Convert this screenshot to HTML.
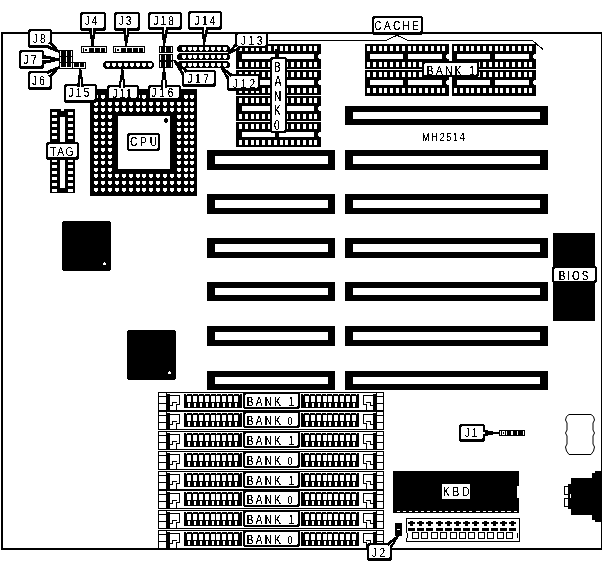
<!DOCTYPE html>
<html><head><meta charset="utf-8"><style>
html,body{margin:0;padding:0;background:#fff;}
svg{display:block;}
text{font-family:"Liberation Sans",sans-serif;}
</style></head><body>
<svg width="604" height="573" viewBox="0 0 604 573" shape-rendering="crispEdges">
<rect x="0" y="0" width="604" height="573" fill="#fff"/>
<rect x="1" y="32" width="601" height="2" fill="#000"/>
<rect x="1" y="32" width="2" height="518" fill="#000"/>
<rect x="1" y="548" width="601" height="2" fill="#000"/>
<rect x="601" y="32" width="1" height="518" fill="#000"/>
<rect x="269" y="40" width="118" height="1" fill="#000"/>
<polygon points="386.00,40.00 397.00,34.50 408.00,40.00 408.00,41.00 397.00,35.80 386.00,41.00" fill="#000"/>
<rect x="408" y="40" width="125" height="1" fill="#000"/>
<polygon points="532.50,40.00 543.50,49.00 543.00,50.00 532.00,41.00" fill="#000"/>
<rect x="345" y="106" width="203" height="19" fill="#000"/>
<rect x="353" y="112" width="187" height="7" fill="#fff"/>
<rect x="345" y="150" width="203" height="20" fill="#000"/>
<rect x="353" y="156" width="187" height="8" fill="#fff"/>
<rect x="207" y="150" width="128" height="20" fill="#000"/>
<rect x="215" y="156" width="113" height="8" fill="#fff"/>
<rect x="345" y="194" width="203" height="20" fill="#000"/>
<rect x="353" y="200" width="187" height="8" fill="#fff"/>
<rect x="207" y="194" width="128" height="20" fill="#000"/>
<rect x="215" y="200" width="113" height="8" fill="#fff"/>
<rect x="345" y="238" width="203" height="20" fill="#000"/>
<rect x="353" y="244" width="187" height="8" fill="#fff"/>
<rect x="207" y="238" width="128" height="20" fill="#000"/>
<rect x="215" y="244" width="113" height="8" fill="#fff"/>
<rect x="345" y="282" width="203" height="19" fill="#000"/>
<rect x="353" y="288" width="187" height="7" fill="#fff"/>
<rect x="207" y="282" width="128" height="19" fill="#000"/>
<rect x="215" y="288" width="113" height="7" fill="#fff"/>
<rect x="345" y="326" width="203" height="20" fill="#000"/>
<rect x="353" y="332" width="187" height="8" fill="#fff"/>
<rect x="207" y="326" width="128" height="20" fill="#000"/>
<rect x="215" y="332" width="113" height="8" fill="#fff"/>
<rect x="345" y="371" width="203" height="19" fill="#000"/>
<rect x="353" y="377" width="187" height="7" fill="#fff"/>
<rect x="207" y="371" width="128" height="19" fill="#000"/>
<rect x="215" y="377" width="113" height="7" fill="#fff"/>
<rect x="62" y="221" width="49" height="50" rx="3" fill="#000"/>
<rect x="103" y="263" width="3" height="2" fill="#fff"/>
<rect x="104" y="262" width="1" height="1" fill="#fff"/>
<rect x="127" y="330" width="49" height="50" rx="3" fill="#000"/>
<rect x="168" y="372" width="3" height="2" fill="#fff"/>
<rect x="169" y="371" width="1" height="1" fill="#fff"/>
<rect x="553" y="233" width="42" height="88" fill="#000"/>
<rect x="552" y="266" width="45" height="17" rx="3" fill="#000"/>
<rect x="554" y="268" width="41" height="13" rx="2" fill="#fff"/>
<rect x="90" y="89" width="107" height="107" fill="#000"/>
<rect x="94" y="95" width="4" height="3" fill="#fff"/>
<rect x="95" y="98" width="2" height="1" fill="#fff"/>
<rect x="94" y="102" width="4" height="3" fill="#fff"/>
<rect x="95" y="105" width="2" height="1" fill="#fff"/>
<rect x="94" y="108" width="4" height="3" fill="#fff"/>
<rect x="95" y="111" width="2" height="1" fill="#fff"/>
<rect x="94" y="115" width="4" height="3" fill="#fff"/>
<rect x="95" y="118" width="2" height="1" fill="#fff"/>
<rect x="94" y="122" width="4" height="3" fill="#fff"/>
<rect x="95" y="125" width="2" height="1" fill="#fff"/>
<rect x="94" y="128" width="4" height="3" fill="#fff"/>
<rect x="95" y="131" width="2" height="1" fill="#fff"/>
<rect x="94" y="135" width="4" height="3" fill="#fff"/>
<rect x="95" y="138" width="2" height="1" fill="#fff"/>
<rect x="94" y="141" width="4" height="3" fill="#fff"/>
<rect x="95" y="144" width="2" height="1" fill="#fff"/>
<rect x="94" y="148" width="4" height="3" fill="#fff"/>
<rect x="95" y="151" width="2" height="1" fill="#fff"/>
<rect x="94" y="155" width="4" height="3" fill="#fff"/>
<rect x="95" y="158" width="2" height="1" fill="#fff"/>
<rect x="94" y="161" width="4" height="3" fill="#fff"/>
<rect x="95" y="164" width="2" height="1" fill="#fff"/>
<rect x="94" y="168" width="4" height="3" fill="#fff"/>
<rect x="95" y="171" width="2" height="1" fill="#fff"/>
<rect x="94" y="174" width="4" height="3" fill="#fff"/>
<rect x="95" y="177" width="2" height="1" fill="#fff"/>
<rect x="94" y="181" width="4" height="3" fill="#fff"/>
<rect x="95" y="184" width="2" height="1" fill="#fff"/>
<rect x="94" y="188" width="4" height="3" fill="#fff"/>
<rect x="95" y="191" width="2" height="1" fill="#fff"/>
<rect x="101" y="95" width="4" height="3" fill="#fff"/>
<rect x="102" y="98" width="2" height="1" fill="#fff"/>
<rect x="101" y="102" width="4" height="3" fill="#fff"/>
<rect x="102" y="105" width="2" height="1" fill="#fff"/>
<rect x="101" y="108" width="4" height="3" fill="#fff"/>
<rect x="102" y="111" width="2" height="1" fill="#fff"/>
<rect x="101" y="115" width="4" height="3" fill="#fff"/>
<rect x="102" y="118" width="2" height="1" fill="#fff"/>
<rect x="101" y="122" width="4" height="3" fill="#fff"/>
<rect x="102" y="125" width="2" height="1" fill="#fff"/>
<rect x="101" y="128" width="4" height="3" fill="#fff"/>
<rect x="102" y="131" width="2" height="1" fill="#fff"/>
<rect x="101" y="135" width="4" height="3" fill="#fff"/>
<rect x="102" y="138" width="2" height="1" fill="#fff"/>
<rect x="101" y="141" width="4" height="3" fill="#fff"/>
<rect x="102" y="144" width="2" height="1" fill="#fff"/>
<rect x="101" y="148" width="4" height="3" fill="#fff"/>
<rect x="102" y="151" width="2" height="1" fill="#fff"/>
<rect x="101" y="155" width="4" height="3" fill="#fff"/>
<rect x="102" y="158" width="2" height="1" fill="#fff"/>
<rect x="101" y="161" width="4" height="3" fill="#fff"/>
<rect x="102" y="164" width="2" height="1" fill="#fff"/>
<rect x="101" y="168" width="4" height="3" fill="#fff"/>
<rect x="102" y="171" width="2" height="1" fill="#fff"/>
<rect x="101" y="174" width="4" height="3" fill="#fff"/>
<rect x="102" y="177" width="2" height="1" fill="#fff"/>
<rect x="101" y="181" width="4" height="3" fill="#fff"/>
<rect x="102" y="184" width="2" height="1" fill="#fff"/>
<rect x="101" y="188" width="4" height="3" fill="#fff"/>
<rect x="102" y="191" width="2" height="1" fill="#fff"/>
<rect x="108" y="95" width="4" height="3" fill="#fff"/>
<rect x="109" y="98" width="2" height="1" fill="#fff"/>
<rect x="108" y="102" width="4" height="3" fill="#fff"/>
<rect x="109" y="105" width="2" height="1" fill="#fff"/>
<rect x="108" y="108" width="4" height="3" fill="#fff"/>
<rect x="109" y="111" width="2" height="1" fill="#fff"/>
<rect x="108" y="115" width="4" height="3" fill="#fff"/>
<rect x="109" y="118" width="2" height="1" fill="#fff"/>
<rect x="108" y="122" width="4" height="3" fill="#fff"/>
<rect x="109" y="125" width="2" height="1" fill="#fff"/>
<rect x="108" y="128" width="4" height="3" fill="#fff"/>
<rect x="109" y="131" width="2" height="1" fill="#fff"/>
<rect x="108" y="135" width="4" height="3" fill="#fff"/>
<rect x="109" y="138" width="2" height="1" fill="#fff"/>
<rect x="108" y="141" width="4" height="3" fill="#fff"/>
<rect x="109" y="144" width="2" height="1" fill="#fff"/>
<rect x="108" y="148" width="4" height="3" fill="#fff"/>
<rect x="109" y="151" width="2" height="1" fill="#fff"/>
<rect x="108" y="155" width="4" height="3" fill="#fff"/>
<rect x="109" y="158" width="2" height="1" fill="#fff"/>
<rect x="108" y="161" width="4" height="3" fill="#fff"/>
<rect x="109" y="164" width="2" height="1" fill="#fff"/>
<rect x="108" y="168" width="4" height="3" fill="#fff"/>
<rect x="109" y="171" width="2" height="1" fill="#fff"/>
<rect x="108" y="174" width="4" height="3" fill="#fff"/>
<rect x="109" y="177" width="2" height="1" fill="#fff"/>
<rect x="108" y="181" width="4" height="3" fill="#fff"/>
<rect x="109" y="184" width="2" height="1" fill="#fff"/>
<rect x="108" y="188" width="4" height="3" fill="#fff"/>
<rect x="109" y="191" width="2" height="1" fill="#fff"/>
<rect x="115" y="95" width="4" height="3" fill="#fff"/>
<rect x="116" y="98" width="2" height="1" fill="#fff"/>
<rect x="115" y="102" width="4" height="3" fill="#fff"/>
<rect x="116" y="105" width="2" height="1" fill="#fff"/>
<rect x="115" y="108" width="4" height="3" fill="#fff"/>
<rect x="116" y="111" width="2" height="1" fill="#fff"/>
<rect x="115" y="174" width="4" height="3" fill="#fff"/>
<rect x="116" y="177" width="2" height="1" fill="#fff"/>
<rect x="115" y="181" width="4" height="3" fill="#fff"/>
<rect x="116" y="184" width="2" height="1" fill="#fff"/>
<rect x="115" y="188" width="4" height="3" fill="#fff"/>
<rect x="116" y="191" width="2" height="1" fill="#fff"/>
<rect x="122" y="95" width="4" height="3" fill="#fff"/>
<rect x="123" y="98" width="2" height="1" fill="#fff"/>
<rect x="122" y="102" width="4" height="3" fill="#fff"/>
<rect x="123" y="105" width="2" height="1" fill="#fff"/>
<rect x="122" y="108" width="4" height="3" fill="#fff"/>
<rect x="123" y="111" width="2" height="1" fill="#fff"/>
<rect x="122" y="174" width="4" height="3" fill="#fff"/>
<rect x="123" y="177" width="2" height="1" fill="#fff"/>
<rect x="122" y="181" width="4" height="3" fill="#fff"/>
<rect x="123" y="184" width="2" height="1" fill="#fff"/>
<rect x="122" y="188" width="4" height="3" fill="#fff"/>
<rect x="123" y="191" width="2" height="1" fill="#fff"/>
<rect x="129" y="95" width="4" height="3" fill="#fff"/>
<rect x="130" y="98" width="2" height="1" fill="#fff"/>
<rect x="129" y="102" width="4" height="3" fill="#fff"/>
<rect x="130" y="105" width="2" height="1" fill="#fff"/>
<rect x="129" y="108" width="4" height="3" fill="#fff"/>
<rect x="130" y="111" width="2" height="1" fill="#fff"/>
<rect x="129" y="174" width="4" height="3" fill="#fff"/>
<rect x="130" y="177" width="2" height="1" fill="#fff"/>
<rect x="129" y="181" width="4" height="3" fill="#fff"/>
<rect x="130" y="184" width="2" height="1" fill="#fff"/>
<rect x="129" y="188" width="4" height="3" fill="#fff"/>
<rect x="130" y="191" width="2" height="1" fill="#fff"/>
<rect x="136" y="95" width="4" height="3" fill="#fff"/>
<rect x="137" y="98" width="2" height="1" fill="#fff"/>
<rect x="136" y="102" width="4" height="3" fill="#fff"/>
<rect x="137" y="105" width="2" height="1" fill="#fff"/>
<rect x="136" y="108" width="4" height="3" fill="#fff"/>
<rect x="137" y="111" width="2" height="1" fill="#fff"/>
<rect x="136" y="174" width="4" height="3" fill="#fff"/>
<rect x="137" y="177" width="2" height="1" fill="#fff"/>
<rect x="136" y="181" width="4" height="3" fill="#fff"/>
<rect x="137" y="184" width="2" height="1" fill="#fff"/>
<rect x="136" y="188" width="4" height="3" fill="#fff"/>
<rect x="137" y="191" width="2" height="1" fill="#fff"/>
<rect x="142" y="95" width="4" height="3" fill="#fff"/>
<rect x="143" y="98" width="2" height="1" fill="#fff"/>
<rect x="142" y="102" width="4" height="3" fill="#fff"/>
<rect x="143" y="105" width="2" height="1" fill="#fff"/>
<rect x="142" y="108" width="4" height="3" fill="#fff"/>
<rect x="143" y="111" width="2" height="1" fill="#fff"/>
<rect x="142" y="174" width="4" height="3" fill="#fff"/>
<rect x="143" y="177" width="2" height="1" fill="#fff"/>
<rect x="142" y="181" width="4" height="3" fill="#fff"/>
<rect x="143" y="184" width="2" height="1" fill="#fff"/>
<rect x="142" y="188" width="4" height="3" fill="#fff"/>
<rect x="143" y="191" width="2" height="1" fill="#fff"/>
<rect x="149" y="95" width="4" height="3" fill="#fff"/>
<rect x="150" y="98" width="2" height="1" fill="#fff"/>
<rect x="149" y="102" width="4" height="3" fill="#fff"/>
<rect x="150" y="105" width="2" height="1" fill="#fff"/>
<rect x="149" y="108" width="4" height="3" fill="#fff"/>
<rect x="150" y="111" width="2" height="1" fill="#fff"/>
<rect x="149" y="174" width="4" height="3" fill="#fff"/>
<rect x="150" y="177" width="2" height="1" fill="#fff"/>
<rect x="149" y="181" width="4" height="3" fill="#fff"/>
<rect x="150" y="184" width="2" height="1" fill="#fff"/>
<rect x="149" y="188" width="4" height="3" fill="#fff"/>
<rect x="150" y="191" width="2" height="1" fill="#fff"/>
<rect x="156" y="95" width="4" height="3" fill="#fff"/>
<rect x="157" y="98" width="2" height="1" fill="#fff"/>
<rect x="156" y="102" width="4" height="3" fill="#fff"/>
<rect x="157" y="105" width="2" height="1" fill="#fff"/>
<rect x="156" y="108" width="4" height="3" fill="#fff"/>
<rect x="157" y="111" width="2" height="1" fill="#fff"/>
<rect x="156" y="174" width="4" height="3" fill="#fff"/>
<rect x="157" y="177" width="2" height="1" fill="#fff"/>
<rect x="156" y="181" width="4" height="3" fill="#fff"/>
<rect x="157" y="184" width="2" height="1" fill="#fff"/>
<rect x="156" y="188" width="4" height="3" fill="#fff"/>
<rect x="157" y="191" width="2" height="1" fill="#fff"/>
<rect x="163" y="95" width="4" height="3" fill="#fff"/>
<rect x="164" y="98" width="2" height="1" fill="#fff"/>
<rect x="163" y="102" width="4" height="3" fill="#fff"/>
<rect x="164" y="105" width="2" height="1" fill="#fff"/>
<rect x="163" y="108" width="4" height="3" fill="#fff"/>
<rect x="164" y="111" width="2" height="1" fill="#fff"/>
<rect x="163" y="174" width="4" height="3" fill="#fff"/>
<rect x="164" y="177" width="2" height="1" fill="#fff"/>
<rect x="163" y="181" width="4" height="3" fill="#fff"/>
<rect x="164" y="184" width="2" height="1" fill="#fff"/>
<rect x="163" y="188" width="4" height="3" fill="#fff"/>
<rect x="164" y="191" width="2" height="1" fill="#fff"/>
<rect x="170" y="95" width="4" height="3" fill="#fff"/>
<rect x="171" y="98" width="2" height="1" fill="#fff"/>
<rect x="170" y="102" width="4" height="3" fill="#fff"/>
<rect x="171" y="105" width="2" height="1" fill="#fff"/>
<rect x="170" y="108" width="4" height="3" fill="#fff"/>
<rect x="171" y="111" width="2" height="1" fill="#fff"/>
<rect x="170" y="174" width="4" height="3" fill="#fff"/>
<rect x="171" y="177" width="2" height="1" fill="#fff"/>
<rect x="170" y="181" width="4" height="3" fill="#fff"/>
<rect x="171" y="184" width="2" height="1" fill="#fff"/>
<rect x="170" y="188" width="4" height="3" fill="#fff"/>
<rect x="171" y="191" width="2" height="1" fill="#fff"/>
<rect x="177" y="95" width="4" height="3" fill="#fff"/>
<rect x="178" y="98" width="2" height="1" fill="#fff"/>
<rect x="177" y="102" width="4" height="3" fill="#fff"/>
<rect x="178" y="105" width="2" height="1" fill="#fff"/>
<rect x="177" y="108" width="4" height="3" fill="#fff"/>
<rect x="178" y="111" width="2" height="1" fill="#fff"/>
<rect x="177" y="115" width="4" height="3" fill="#fff"/>
<rect x="178" y="118" width="2" height="1" fill="#fff"/>
<rect x="177" y="122" width="4" height="3" fill="#fff"/>
<rect x="178" y="125" width="2" height="1" fill="#fff"/>
<rect x="177" y="128" width="4" height="3" fill="#fff"/>
<rect x="178" y="131" width="2" height="1" fill="#fff"/>
<rect x="177" y="135" width="4" height="3" fill="#fff"/>
<rect x="178" y="138" width="2" height="1" fill="#fff"/>
<rect x="177" y="141" width="4" height="3" fill="#fff"/>
<rect x="178" y="144" width="2" height="1" fill="#fff"/>
<rect x="177" y="148" width="4" height="3" fill="#fff"/>
<rect x="178" y="151" width="2" height="1" fill="#fff"/>
<rect x="177" y="155" width="4" height="3" fill="#fff"/>
<rect x="178" y="158" width="2" height="1" fill="#fff"/>
<rect x="177" y="161" width="4" height="3" fill="#fff"/>
<rect x="178" y="164" width="2" height="1" fill="#fff"/>
<rect x="177" y="168" width="4" height="3" fill="#fff"/>
<rect x="178" y="171" width="2" height="1" fill="#fff"/>
<rect x="177" y="174" width="4" height="3" fill="#fff"/>
<rect x="178" y="177" width="2" height="1" fill="#fff"/>
<rect x="177" y="181" width="4" height="3" fill="#fff"/>
<rect x="178" y="184" width="2" height="1" fill="#fff"/>
<rect x="177" y="188" width="4" height="3" fill="#fff"/>
<rect x="178" y="191" width="2" height="1" fill="#fff"/>
<rect x="184" y="95" width="4" height="3" fill="#fff"/>
<rect x="185" y="98" width="2" height="1" fill="#fff"/>
<rect x="184" y="102" width="4" height="3" fill="#fff"/>
<rect x="185" y="105" width="2" height="1" fill="#fff"/>
<rect x="184" y="108" width="4" height="3" fill="#fff"/>
<rect x="185" y="111" width="2" height="1" fill="#fff"/>
<rect x="184" y="115" width="4" height="3" fill="#fff"/>
<rect x="185" y="118" width="2" height="1" fill="#fff"/>
<rect x="184" y="122" width="4" height="3" fill="#fff"/>
<rect x="185" y="125" width="2" height="1" fill="#fff"/>
<rect x="184" y="128" width="4" height="3" fill="#fff"/>
<rect x="185" y="131" width="2" height="1" fill="#fff"/>
<rect x="184" y="135" width="4" height="3" fill="#fff"/>
<rect x="185" y="138" width="2" height="1" fill="#fff"/>
<rect x="184" y="141" width="4" height="3" fill="#fff"/>
<rect x="185" y="144" width="2" height="1" fill="#fff"/>
<rect x="184" y="148" width="4" height="3" fill="#fff"/>
<rect x="185" y="151" width="2" height="1" fill="#fff"/>
<rect x="184" y="155" width="4" height="3" fill="#fff"/>
<rect x="185" y="158" width="2" height="1" fill="#fff"/>
<rect x="184" y="161" width="4" height="3" fill="#fff"/>
<rect x="185" y="164" width="2" height="1" fill="#fff"/>
<rect x="184" y="168" width="4" height="3" fill="#fff"/>
<rect x="185" y="171" width="2" height="1" fill="#fff"/>
<rect x="184" y="174" width="4" height="3" fill="#fff"/>
<rect x="185" y="177" width="2" height="1" fill="#fff"/>
<rect x="184" y="181" width="4" height="3" fill="#fff"/>
<rect x="185" y="184" width="2" height="1" fill="#fff"/>
<rect x="184" y="188" width="4" height="3" fill="#fff"/>
<rect x="185" y="191" width="2" height="1" fill="#fff"/>
<rect x="190" y="95" width="4" height="3" fill="#fff"/>
<rect x="191" y="98" width="2" height="1" fill="#fff"/>
<rect x="190" y="102" width="4" height="3" fill="#fff"/>
<rect x="191" y="105" width="2" height="1" fill="#fff"/>
<rect x="190" y="108" width="4" height="3" fill="#fff"/>
<rect x="191" y="111" width="2" height="1" fill="#fff"/>
<rect x="190" y="115" width="4" height="3" fill="#fff"/>
<rect x="191" y="118" width="2" height="1" fill="#fff"/>
<rect x="190" y="122" width="4" height="3" fill="#fff"/>
<rect x="191" y="125" width="2" height="1" fill="#fff"/>
<rect x="190" y="128" width="4" height="3" fill="#fff"/>
<rect x="191" y="131" width="2" height="1" fill="#fff"/>
<rect x="190" y="135" width="4" height="3" fill="#fff"/>
<rect x="191" y="138" width="2" height="1" fill="#fff"/>
<rect x="190" y="141" width="4" height="3" fill="#fff"/>
<rect x="191" y="144" width="2" height="1" fill="#fff"/>
<rect x="190" y="148" width="4" height="3" fill="#fff"/>
<rect x="191" y="151" width="2" height="1" fill="#fff"/>
<rect x="190" y="155" width="4" height="3" fill="#fff"/>
<rect x="191" y="158" width="2" height="1" fill="#fff"/>
<rect x="190" y="161" width="4" height="3" fill="#fff"/>
<rect x="191" y="164" width="2" height="1" fill="#fff"/>
<rect x="190" y="168" width="4" height="3" fill="#fff"/>
<rect x="191" y="171" width="2" height="1" fill="#fff"/>
<rect x="190" y="174" width="4" height="3" fill="#fff"/>
<rect x="191" y="177" width="2" height="1" fill="#fff"/>
<rect x="190" y="181" width="4" height="3" fill="#fff"/>
<rect x="191" y="184" width="2" height="1" fill="#fff"/>
<rect x="190" y="188" width="4" height="3" fill="#fff"/>
<rect x="191" y="191" width="2" height="1" fill="#fff"/>
<rect x="118" y="116" width="52" height="53" fill="#fff"/>
<circle cx="166" cy="120.5" r="2.3" fill="#000"/>
<rect x="127" y="133" width="33" height="18" rx="3" fill="#000"/>
<rect x="129" y="135" width="29" height="14" rx="2" fill="#fff"/>
<rect x="50" y="109" width="25" height="84" fill="#000"/>
<rect x="60" y="117" width="5" height="71" fill="#fff"/>
<rect x="52" y="112" width="5" height="3" fill="#fff"/>
<rect x="68" y="112" width="5" height="3" fill="#fff"/>
<rect x="52" y="118" width="5" height="3" fill="#fff"/>
<rect x="68" y="118" width="5" height="3" fill="#fff"/>
<rect x="52" y="124" width="5" height="3" fill="#fff"/>
<rect x="68" y="124" width="5" height="3" fill="#fff"/>
<rect x="52" y="130" width="5" height="3" fill="#fff"/>
<rect x="68" y="130" width="5" height="3" fill="#fff"/>
<rect x="52" y="136" width="5" height="3" fill="#fff"/>
<rect x="68" y="136" width="5" height="3" fill="#fff"/>
<rect x="52" y="142" width="5" height="3" fill="#fff"/>
<rect x="68" y="142" width="5" height="3" fill="#fff"/>
<rect x="52" y="148" width="5" height="3" fill="#fff"/>
<rect x="68" y="148" width="5" height="3" fill="#fff"/>
<rect x="52" y="153" width="5" height="3" fill="#fff"/>
<rect x="68" y="153" width="5" height="3" fill="#fff"/>
<rect x="52" y="159" width="5" height="3" fill="#fff"/>
<rect x="68" y="159" width="5" height="3" fill="#fff"/>
<rect x="52" y="165" width="5" height="3" fill="#fff"/>
<rect x="68" y="165" width="5" height="3" fill="#fff"/>
<rect x="52" y="171" width="5" height="3" fill="#fff"/>
<rect x="68" y="171" width="5" height="3" fill="#fff"/>
<rect x="52" y="177" width="5" height="3" fill="#fff"/>
<rect x="68" y="177" width="5" height="3" fill="#fff"/>
<rect x="52" y="183" width="5" height="3" fill="#fff"/>
<rect x="68" y="183" width="5" height="3" fill="#fff"/>
<rect x="52" y="189" width="5" height="3" fill="#fff"/>
<rect x="68" y="189" width="5" height="3" fill="#fff"/>
<rect x="61" y="109" width="3" height="2" fill="#fff"/>
<rect x="46" y="142" width="33" height="18" rx="3" fill="#000"/>
<rect x="48" y="144" width="29" height="13" rx="2" fill="#fff"/>
<rect x="236" y="44" width="85" height="103" fill="#000"/>
<rect x="239" y="46" width="3" height="5" fill="#fff"/>
<rect x="239" y="62" width="3" height="5" fill="#fff"/>
<rect x="245" y="46" width="3" height="5" fill="#fff"/>
<rect x="245" y="62" width="3" height="5" fill="#fff"/>
<rect x="251" y="46" width="3" height="5" fill="#fff"/>
<rect x="251" y="62" width="3" height="5" fill="#fff"/>
<rect x="256" y="46" width="3" height="5" fill="#fff"/>
<rect x="256" y="62" width="3" height="5" fill="#fff"/>
<rect x="262" y="46" width="3" height="5" fill="#fff"/>
<rect x="262" y="62" width="3" height="5" fill="#fff"/>
<rect x="268" y="46" width="3" height="5" fill="#fff"/>
<rect x="268" y="62" width="3" height="5" fill="#fff"/>
<rect x="274" y="46" width="3" height="5" fill="#fff"/>
<rect x="274" y="62" width="3" height="5" fill="#fff"/>
<rect x="280" y="46" width="3" height="5" fill="#fff"/>
<rect x="280" y="62" width="3" height="5" fill="#fff"/>
<rect x="285" y="46" width="3" height="5" fill="#fff"/>
<rect x="285" y="62" width="3" height="5" fill="#fff"/>
<rect x="291" y="46" width="3" height="5" fill="#fff"/>
<rect x="291" y="62" width="3" height="5" fill="#fff"/>
<rect x="297" y="46" width="3" height="5" fill="#fff"/>
<rect x="297" y="62" width="3" height="5" fill="#fff"/>
<rect x="303" y="46" width="3" height="5" fill="#fff"/>
<rect x="303" y="62" width="3" height="5" fill="#fff"/>
<rect x="309" y="46" width="3" height="5" fill="#fff"/>
<rect x="309" y="62" width="3" height="5" fill="#fff"/>
<rect x="314" y="46" width="3" height="5" fill="#fff"/>
<rect x="314" y="62" width="3" height="5" fill="#fff"/>
<rect x="242" y="54" width="72" height="5" fill="#fff"/>
<circle cx="321" cy="56.5" r="3" fill="#fff"/>
<rect x="236" y="69" width="85" height="1" fill="#fff"/>
<rect x="239" y="72" width="3" height="5" fill="#fff"/>
<rect x="239" y="88" width="3" height="5" fill="#fff"/>
<rect x="245" y="72" width="3" height="5" fill="#fff"/>
<rect x="245" y="88" width="3" height="5" fill="#fff"/>
<rect x="251" y="72" width="3" height="5" fill="#fff"/>
<rect x="251" y="88" width="3" height="5" fill="#fff"/>
<rect x="256" y="72" width="3" height="5" fill="#fff"/>
<rect x="256" y="88" width="3" height="5" fill="#fff"/>
<rect x="262" y="72" width="3" height="5" fill="#fff"/>
<rect x="262" y="88" width="3" height="5" fill="#fff"/>
<rect x="268" y="72" width="3" height="5" fill="#fff"/>
<rect x="268" y="88" width="3" height="5" fill="#fff"/>
<rect x="274" y="72" width="3" height="5" fill="#fff"/>
<rect x="274" y="88" width="3" height="5" fill="#fff"/>
<rect x="280" y="72" width="3" height="5" fill="#fff"/>
<rect x="280" y="88" width="3" height="5" fill="#fff"/>
<rect x="285" y="72" width="3" height="5" fill="#fff"/>
<rect x="285" y="88" width="3" height="5" fill="#fff"/>
<rect x="291" y="72" width="3" height="5" fill="#fff"/>
<rect x="291" y="88" width="3" height="5" fill="#fff"/>
<rect x="297" y="72" width="3" height="5" fill="#fff"/>
<rect x="297" y="88" width="3" height="5" fill="#fff"/>
<rect x="303" y="72" width="3" height="5" fill="#fff"/>
<rect x="303" y="88" width="3" height="5" fill="#fff"/>
<rect x="309" y="72" width="3" height="5" fill="#fff"/>
<rect x="309" y="88" width="3" height="5" fill="#fff"/>
<rect x="314" y="72" width="3" height="5" fill="#fff"/>
<rect x="314" y="88" width="3" height="5" fill="#fff"/>
<rect x="242" y="80" width="72" height="5" fill="#fff"/>
<circle cx="321" cy="82.5" r="3" fill="#fff"/>
<rect x="236" y="95" width="85" height="1" fill="#fff"/>
<rect x="239" y="98" width="3" height="5" fill="#fff"/>
<rect x="239" y="114" width="3" height="5" fill="#fff"/>
<rect x="245" y="98" width="3" height="5" fill="#fff"/>
<rect x="245" y="114" width="3" height="5" fill="#fff"/>
<rect x="251" y="98" width="3" height="5" fill="#fff"/>
<rect x="251" y="114" width="3" height="5" fill="#fff"/>
<rect x="256" y="98" width="3" height="5" fill="#fff"/>
<rect x="256" y="114" width="3" height="5" fill="#fff"/>
<rect x="262" y="98" width="3" height="5" fill="#fff"/>
<rect x="262" y="114" width="3" height="5" fill="#fff"/>
<rect x="268" y="98" width="3" height="5" fill="#fff"/>
<rect x="268" y="114" width="3" height="5" fill="#fff"/>
<rect x="274" y="98" width="3" height="5" fill="#fff"/>
<rect x="274" y="114" width="3" height="5" fill="#fff"/>
<rect x="280" y="98" width="3" height="5" fill="#fff"/>
<rect x="280" y="114" width="3" height="5" fill="#fff"/>
<rect x="285" y="98" width="3" height="5" fill="#fff"/>
<rect x="285" y="114" width="3" height="5" fill="#fff"/>
<rect x="291" y="98" width="3" height="5" fill="#fff"/>
<rect x="291" y="114" width="3" height="5" fill="#fff"/>
<rect x="297" y="98" width="3" height="5" fill="#fff"/>
<rect x="297" y="114" width="3" height="5" fill="#fff"/>
<rect x="303" y="98" width="3" height="5" fill="#fff"/>
<rect x="303" y="114" width="3" height="5" fill="#fff"/>
<rect x="309" y="98" width="3" height="5" fill="#fff"/>
<rect x="309" y="114" width="3" height="5" fill="#fff"/>
<rect x="314" y="98" width="3" height="5" fill="#fff"/>
<rect x="314" y="114" width="3" height="5" fill="#fff"/>
<rect x="242" y="106" width="72" height="5" fill="#fff"/>
<circle cx="321" cy="108.5" r="3" fill="#fff"/>
<rect x="236" y="121" width="85" height="1" fill="#fff"/>
<rect x="239" y="124" width="3" height="5" fill="#fff"/>
<rect x="239" y="140" width="3" height="5" fill="#fff"/>
<rect x="245" y="124" width="3" height="5" fill="#fff"/>
<rect x="245" y="140" width="3" height="5" fill="#fff"/>
<rect x="251" y="124" width="3" height="5" fill="#fff"/>
<rect x="251" y="140" width="3" height="5" fill="#fff"/>
<rect x="256" y="124" width="3" height="5" fill="#fff"/>
<rect x="256" y="140" width="3" height="5" fill="#fff"/>
<rect x="262" y="124" width="3" height="5" fill="#fff"/>
<rect x="262" y="140" width="3" height="5" fill="#fff"/>
<rect x="268" y="124" width="3" height="5" fill="#fff"/>
<rect x="268" y="140" width="3" height="5" fill="#fff"/>
<rect x="274" y="124" width="3" height="5" fill="#fff"/>
<rect x="274" y="140" width="3" height="5" fill="#fff"/>
<rect x="280" y="124" width="3" height="5" fill="#fff"/>
<rect x="280" y="140" width="3" height="5" fill="#fff"/>
<rect x="285" y="124" width="3" height="5" fill="#fff"/>
<rect x="285" y="140" width="3" height="5" fill="#fff"/>
<rect x="291" y="124" width="3" height="5" fill="#fff"/>
<rect x="291" y="140" width="3" height="5" fill="#fff"/>
<rect x="297" y="124" width="3" height="5" fill="#fff"/>
<rect x="297" y="140" width="3" height="5" fill="#fff"/>
<rect x="303" y="124" width="3" height="5" fill="#fff"/>
<rect x="303" y="140" width="3" height="5" fill="#fff"/>
<rect x="309" y="124" width="3" height="5" fill="#fff"/>
<rect x="309" y="140" width="3" height="5" fill="#fff"/>
<rect x="314" y="124" width="3" height="5" fill="#fff"/>
<rect x="314" y="140" width="3" height="5" fill="#fff"/>
<rect x="242" y="132" width="72" height="5" fill="#fff"/>
<circle cx="321" cy="134.5" r="3" fill="#fff"/>
<rect x="275" y="49" width="4" height="12" fill="#000"/>
<rect x="275" y="128" width="4" height="12" fill="#000"/>
<rect x="270" y="57" width="17" height="76" rx="3" fill="#000"/>
<rect x="272" y="59" width="13" height="72" rx="2" fill="#fff"/>
<rect x="365" y="44" width="84" height="52" fill="#000"/>
<rect x="367" y="46" width="3" height="5" fill="#fff"/>
<rect x="367" y="62" width="3" height="5" fill="#fff"/>
<rect x="373" y="46" width="3" height="5" fill="#fff"/>
<rect x="373" y="62" width="3" height="5" fill="#fff"/>
<rect x="379" y="46" width="3" height="5" fill="#fff"/>
<rect x="379" y="62" width="3" height="5" fill="#fff"/>
<rect x="384" y="46" width="3" height="5" fill="#fff"/>
<rect x="384" y="62" width="3" height="5" fill="#fff"/>
<rect x="390" y="46" width="3" height="5" fill="#fff"/>
<rect x="390" y="62" width="3" height="5" fill="#fff"/>
<rect x="396" y="46" width="3" height="5" fill="#fff"/>
<rect x="396" y="62" width="3" height="5" fill="#fff"/>
<rect x="402" y="46" width="3" height="5" fill="#fff"/>
<rect x="402" y="62" width="3" height="5" fill="#fff"/>
<rect x="408" y="46" width="3" height="5" fill="#fff"/>
<rect x="408" y="62" width="3" height="5" fill="#fff"/>
<rect x="413" y="46" width="3" height="5" fill="#fff"/>
<rect x="413" y="62" width="3" height="5" fill="#fff"/>
<rect x="419" y="46" width="3" height="5" fill="#fff"/>
<rect x="419" y="62" width="3" height="5" fill="#fff"/>
<rect x="425" y="46" width="3" height="5" fill="#fff"/>
<rect x="425" y="62" width="3" height="5" fill="#fff"/>
<rect x="431" y="46" width="3" height="5" fill="#fff"/>
<rect x="431" y="62" width="3" height="5" fill="#fff"/>
<rect x="437" y="46" width="3" height="5" fill="#fff"/>
<rect x="437" y="62" width="3" height="5" fill="#fff"/>
<rect x="442" y="46" width="3" height="5" fill="#fff"/>
<rect x="442" y="62" width="3" height="5" fill="#fff"/>
<rect x="370" y="54" width="33" height="5" fill="#fff"/>
<rect x="408" y="54" width="34" height="5" fill="#fff"/>
<circle cx="449" cy="56.5" r="3" fill="#fff"/>
<rect x="365" y="69" width="84" height="1" fill="#fff"/>
<rect x="367" y="72" width="3" height="5" fill="#fff"/>
<rect x="367" y="88" width="3" height="5" fill="#fff"/>
<rect x="373" y="72" width="3" height="5" fill="#fff"/>
<rect x="373" y="88" width="3" height="5" fill="#fff"/>
<rect x="379" y="72" width="3" height="5" fill="#fff"/>
<rect x="379" y="88" width="3" height="5" fill="#fff"/>
<rect x="384" y="72" width="3" height="5" fill="#fff"/>
<rect x="384" y="88" width="3" height="5" fill="#fff"/>
<rect x="390" y="72" width="3" height="5" fill="#fff"/>
<rect x="390" y="88" width="3" height="5" fill="#fff"/>
<rect x="396" y="72" width="3" height="5" fill="#fff"/>
<rect x="396" y="88" width="3" height="5" fill="#fff"/>
<rect x="402" y="72" width="3" height="5" fill="#fff"/>
<rect x="402" y="88" width="3" height="5" fill="#fff"/>
<rect x="408" y="72" width="3" height="5" fill="#fff"/>
<rect x="408" y="88" width="3" height="5" fill="#fff"/>
<rect x="413" y="72" width="3" height="5" fill="#fff"/>
<rect x="413" y="88" width="3" height="5" fill="#fff"/>
<rect x="419" y="72" width="3" height="5" fill="#fff"/>
<rect x="419" y="88" width="3" height="5" fill="#fff"/>
<rect x="425" y="72" width="3" height="5" fill="#fff"/>
<rect x="425" y="88" width="3" height="5" fill="#fff"/>
<rect x="431" y="72" width="3" height="5" fill="#fff"/>
<rect x="431" y="88" width="3" height="5" fill="#fff"/>
<rect x="437" y="72" width="3" height="5" fill="#fff"/>
<rect x="437" y="88" width="3" height="5" fill="#fff"/>
<rect x="442" y="72" width="3" height="5" fill="#fff"/>
<rect x="442" y="88" width="3" height="5" fill="#fff"/>
<rect x="370" y="80" width="33" height="5" fill="#fff"/>
<rect x="408" y="80" width="34" height="5" fill="#fff"/>
<circle cx="449" cy="82.5" r="3" fill="#fff"/>
<rect x="452" y="44" width="84" height="52" fill="#000"/>
<rect x="454" y="46" width="3" height="5" fill="#fff"/>
<rect x="454" y="62" width="3" height="5" fill="#fff"/>
<rect x="460" y="46" width="3" height="5" fill="#fff"/>
<rect x="460" y="62" width="3" height="5" fill="#fff"/>
<rect x="466" y="46" width="3" height="5" fill="#fff"/>
<rect x="466" y="62" width="3" height="5" fill="#fff"/>
<rect x="471" y="46" width="3" height="5" fill="#fff"/>
<rect x="471" y="62" width="3" height="5" fill="#fff"/>
<rect x="477" y="46" width="3" height="5" fill="#fff"/>
<rect x="477" y="62" width="3" height="5" fill="#fff"/>
<rect x="483" y="46" width="3" height="5" fill="#fff"/>
<rect x="483" y="62" width="3" height="5" fill="#fff"/>
<rect x="489" y="46" width="3" height="5" fill="#fff"/>
<rect x="489" y="62" width="3" height="5" fill="#fff"/>
<rect x="495" y="46" width="3" height="5" fill="#fff"/>
<rect x="495" y="62" width="3" height="5" fill="#fff"/>
<rect x="500" y="46" width="3" height="5" fill="#fff"/>
<rect x="500" y="62" width="3" height="5" fill="#fff"/>
<rect x="506" y="46" width="3" height="5" fill="#fff"/>
<rect x="506" y="62" width="3" height="5" fill="#fff"/>
<rect x="512" y="46" width="3" height="5" fill="#fff"/>
<rect x="512" y="62" width="3" height="5" fill="#fff"/>
<rect x="518" y="46" width="3" height="5" fill="#fff"/>
<rect x="518" y="62" width="3" height="5" fill="#fff"/>
<rect x="524" y="46" width="3" height="5" fill="#fff"/>
<rect x="524" y="62" width="3" height="5" fill="#fff"/>
<rect x="529" y="46" width="3" height="5" fill="#fff"/>
<rect x="529" y="62" width="3" height="5" fill="#fff"/>
<rect x="457" y="54" width="33" height="5" fill="#fff"/>
<rect x="495" y="54" width="34" height="5" fill="#fff"/>
<circle cx="536" cy="56.5" r="3" fill="#fff"/>
<rect x="452" y="69" width="84" height="1" fill="#fff"/>
<rect x="454" y="72" width="3" height="5" fill="#fff"/>
<rect x="454" y="88" width="3" height="5" fill="#fff"/>
<rect x="460" y="72" width="3" height="5" fill="#fff"/>
<rect x="460" y="88" width="3" height="5" fill="#fff"/>
<rect x="466" y="72" width="3" height="5" fill="#fff"/>
<rect x="466" y="88" width="3" height="5" fill="#fff"/>
<rect x="471" y="72" width="3" height="5" fill="#fff"/>
<rect x="471" y="88" width="3" height="5" fill="#fff"/>
<rect x="477" y="72" width="3" height="5" fill="#fff"/>
<rect x="477" y="88" width="3" height="5" fill="#fff"/>
<rect x="483" y="72" width="3" height="5" fill="#fff"/>
<rect x="483" y="88" width="3" height="5" fill="#fff"/>
<rect x="489" y="72" width="3" height="5" fill="#fff"/>
<rect x="489" y="88" width="3" height="5" fill="#fff"/>
<rect x="495" y="72" width="3" height="5" fill="#fff"/>
<rect x="495" y="88" width="3" height="5" fill="#fff"/>
<rect x="500" y="72" width="3" height="5" fill="#fff"/>
<rect x="500" y="88" width="3" height="5" fill="#fff"/>
<rect x="506" y="72" width="3" height="5" fill="#fff"/>
<rect x="506" y="88" width="3" height="5" fill="#fff"/>
<rect x="512" y="72" width="3" height="5" fill="#fff"/>
<rect x="512" y="88" width="3" height="5" fill="#fff"/>
<rect x="518" y="72" width="3" height="5" fill="#fff"/>
<rect x="518" y="88" width="3" height="5" fill="#fff"/>
<rect x="524" y="72" width="3" height="5" fill="#fff"/>
<rect x="524" y="88" width="3" height="5" fill="#fff"/>
<rect x="529" y="72" width="3" height="5" fill="#fff"/>
<rect x="529" y="88" width="3" height="5" fill="#fff"/>
<rect x="457" y="80" width="33" height="5" fill="#fff"/>
<rect x="495" y="80" width="34" height="5" fill="#fff"/>
<circle cx="536" cy="82.5" r="3" fill="#fff"/>
<rect x="422" y="61" width="57" height="16" rx="3" fill="#000"/>
<rect x="424" y="63" width="53" height="12" rx="2" fill="#fff"/>
<rect x="372" y="16" width="51" height="19" rx="3" fill="#000"/>
<rect x="374" y="18" width="47" height="14" rx="2" fill="#fff"/>
<rect x="177" y="45" width="53" height="7" rx="3.5" fill="#000"/>
<rect x="182" y="47" width="4" height="3" fill="#fff"/>
<rect x="183" y="50" width="2" height="1" fill="#fff"/>
<rect x="188" y="47" width="4" height="3" fill="#fff"/>
<rect x="189" y="50" width="2" height="1" fill="#fff"/>
<rect x="193" y="47" width="4" height="3" fill="#fff"/>
<rect x="194" y="50" width="2" height="1" fill="#fff"/>
<rect x="199" y="47" width="4" height="3" fill="#fff"/>
<rect x="200" y="50" width="2" height="1" fill="#fff"/>
<rect x="205" y="47" width="4" height="3" fill="#fff"/>
<rect x="206" y="50" width="2" height="1" fill="#fff"/>
<rect x="211" y="47" width="4" height="3" fill="#fff"/>
<rect x="212" y="50" width="2" height="1" fill="#fff"/>
<rect x="217" y="47" width="4" height="3" fill="#fff"/>
<rect x="218" y="50" width="2" height="1" fill="#fff"/>
<rect x="223" y="47" width="4" height="3" fill="#fff"/>
<rect x="224" y="50" width="2" height="1" fill="#fff"/>
<rect x="177" y="53" width="53" height="7" rx="3.5" fill="#000"/>
<rect x="182" y="55" width="4" height="3" fill="#fff"/>
<rect x="183" y="58" width="2" height="1" fill="#fff"/>
<rect x="188" y="55" width="4" height="3" fill="#fff"/>
<rect x="189" y="58" width="2" height="1" fill="#fff"/>
<rect x="193" y="55" width="4" height="3" fill="#fff"/>
<rect x="194" y="58" width="2" height="1" fill="#fff"/>
<rect x="199" y="55" width="4" height="3" fill="#fff"/>
<rect x="200" y="58" width="2" height="1" fill="#fff"/>
<rect x="205" y="55" width="4" height="3" fill="#fff"/>
<rect x="206" y="58" width="2" height="1" fill="#fff"/>
<rect x="211" y="55" width="4" height="3" fill="#fff"/>
<rect x="212" y="58" width="2" height="1" fill="#fff"/>
<rect x="217" y="55" width="4" height="3" fill="#fff"/>
<rect x="218" y="58" width="2" height="1" fill="#fff"/>
<rect x="223" y="55" width="4" height="3" fill="#fff"/>
<rect x="224" y="58" width="2" height="1" fill="#fff"/>
<rect x="177" y="61" width="53" height="7" rx="3.5" fill="#000"/>
<rect x="182" y="63" width="4" height="3" fill="#fff"/>
<rect x="183" y="66" width="2" height="1" fill="#fff"/>
<rect x="188" y="63" width="4" height="3" fill="#fff"/>
<rect x="189" y="66" width="2" height="1" fill="#fff"/>
<rect x="193" y="63" width="4" height="3" fill="#fff"/>
<rect x="194" y="66" width="2" height="1" fill="#fff"/>
<rect x="199" y="63" width="4" height="3" fill="#fff"/>
<rect x="200" y="66" width="2" height="1" fill="#fff"/>
<rect x="205" y="63" width="4" height="3" fill="#fff"/>
<rect x="206" y="66" width="2" height="1" fill="#fff"/>
<rect x="211" y="63" width="4" height="3" fill="#fff"/>
<rect x="212" y="66" width="2" height="1" fill="#fff"/>
<rect x="217" y="63" width="4" height="3" fill="#fff"/>
<rect x="218" y="66" width="2" height="1" fill="#fff"/>
<rect x="223" y="63" width="4" height="3" fill="#fff"/>
<rect x="224" y="66" width="2" height="1" fill="#fff"/>
<rect x="103" y="61" width="51" height="8" rx="4.0" fill="#000"/>
<rect x="106" y="63" width="4" height="3" fill="#fff"/>
<rect x="107" y="66" width="2" height="1" fill="#fff"/>
<rect x="112" y="63" width="4" height="3" fill="#fff"/>
<rect x="113" y="66" width="2" height="1" fill="#fff"/>
<rect x="118" y="63" width="4" height="3" fill="#fff"/>
<rect x="119" y="66" width="2" height="1" fill="#fff"/>
<rect x="124" y="63" width="4" height="3" fill="#fff"/>
<rect x="125" y="66" width="2" height="1" fill="#fff"/>
<rect x="130" y="63" width="4" height="3" fill="#fff"/>
<rect x="131" y="66" width="2" height="1" fill="#fff"/>
<rect x="136" y="63" width="4" height="3" fill="#fff"/>
<rect x="137" y="66" width="2" height="1" fill="#fff"/>
<rect x="142" y="63" width="4" height="3" fill="#fff"/>
<rect x="143" y="66" width="2" height="1" fill="#fff"/>
<rect x="148" y="63" width="4" height="3" fill="#fff"/>
<rect x="149" y="66" width="2" height="1" fill="#fff"/>
<rect x="81" y="46" width="26" height="7" fill="#000"/>
<rect x="82" y="47" width="24" height="5" fill="#fff"/>
<rect x="83" y="48" width="22" height="4" fill="#000"/>
<rect x="84" y="48" width="4" height="4" fill="#fff"/>
<rect x="85" y="49" width="2" height="2" fill="#000"/>
<rect x="88" y="48" width="1" height="4" fill="#fff"/>
<rect x="94" y="48" width="1" height="4" fill="#fff"/>
<rect x="100" y="48" width="1" height="4" fill="#fff"/>
<rect x="113" y="46" width="32" height="7" fill="#000"/>
<rect x="114" y="47" width="30" height="5" fill="#fff"/>
<rect x="115" y="48" width="28" height="4" fill="#000"/>
<rect x="116" y="48" width="4" height="4" fill="#fff"/>
<rect x="117" y="49" width="2" height="2" fill="#000"/>
<rect x="120" y="48" width="1" height="4" fill="#fff"/>
<rect x="126" y="48" width="1" height="4" fill="#fff"/>
<rect x="132" y="48" width="1" height="4" fill="#fff"/>
<rect x="138" y="48" width="1" height="4" fill="#fff"/>
<rect x="159" y="46" width="14" height="7" fill="#000"/>
<rect x="160" y="47" width="1" height="5" fill="#fff"/>
<rect x="165" y="47" width="1" height="5" fill="#fff"/>
<rect x="171" y="47" width="1" height="5" fill="#fff"/>
<rect x="159" y="54" width="14" height="14" fill="#000"/>
<rect x="160" y="55" width="1" height="5" fill="#fff"/>
<rect x="160" y="62" width="1" height="5" fill="#fff"/>
<rect x="165" y="55" width="1" height="5" fill="#fff"/>
<rect x="165" y="62" width="1" height="5" fill="#fff"/>
<rect x="171" y="55" width="1" height="5" fill="#fff"/>
<rect x="171" y="62" width="1" height="5" fill="#fff"/>
<rect x="59" y="50" width="14" height="19" fill="#000"/>
<rect x="60" y="51" width="1" height="5" fill="#fff"/>
<rect x="60" y="57" width="1" height="5" fill="#fff"/>
<rect x="60" y="63" width="1" height="4" fill="#fff"/>
<rect x="66" y="51" width="1" height="5" fill="#fff"/>
<rect x="66" y="57" width="1" height="5" fill="#fff"/>
<rect x="66" y="63" width="1" height="4" fill="#fff"/>
<rect x="71" y="51" width="1" height="5" fill="#fff"/>
<rect x="71" y="57" width="1" height="5" fill="#fff"/>
<rect x="71" y="63" width="1" height="4" fill="#fff"/>
<rect x="60" y="67" width="12" height="1" fill="#fff"/>
<rect x="73" y="62" width="13" height="7" fill="#000"/>
<rect x="73" y="63" width="1" height="4" fill="#fff"/>
<rect x="79" y="63" width="1" height="4" fill="#fff"/>
<rect x="84" y="63" width="1" height="4" fill="#fff"/>
<rect x="73" y="67" width="12" height="1" fill="#fff"/>
<rect x="80" y="12" width="26" height="19" rx="3" fill="#000"/>
<rect x="82" y="14" width="22" height="14" rx="2" fill="#fff"/>
<rect x="114" y="12" width="26" height="19" rx="3" fill="#000"/>
<rect x="116" y="14" width="22" height="14" rx="2" fill="#fff"/>
<rect x="148" y="12" width="34" height="18" rx="3" fill="#000"/>
<rect x="150" y="14" width="30" height="13" rx="2" fill="#fff"/>
<rect x="188" y="11" width="34" height="19" rx="3" fill="#000"/>
<rect x="190" y="13" width="30" height="14" rx="2" fill="#fff"/>
<rect x="235" y="32" width="33" height="16" rx="3" fill="#000"/>
<rect x="237" y="34" width="29" height="12" rx="2" fill="#fff"/>
<rect x="28" y="29" width="24" height="19" rx="3" fill="#000"/>
<rect x="30" y="31" width="20" height="14" rx="2" fill="#fff"/>
<rect x="19" y="50" width="25" height="19" rx="3" fill="#000"/>
<rect x="21" y="52" width="21" height="14" rx="2" fill="#fff"/>
<rect x="28" y="71" width="24" height="19" rx="3" fill="#000"/>
<rect x="30" y="73" width="20" height="14" rx="2" fill="#fff"/>
<rect x="64" y="84" width="33" height="19" rx="3" fill="#000"/>
<rect x="66" y="86" width="29" height="14" rx="2" fill="#fff"/>
<rect x="107" y="85" width="32" height="16" rx="3" fill="#000"/>
<rect x="109" y="87" width="28" height="11" rx="2" fill="#fff"/>
<rect x="148" y="85" width="33" height="16" rx="3" fill="#000"/>
<rect x="150" y="87" width="29" height="11" rx="2" fill="#fff"/>
<rect x="182" y="70" width="34" height="17" rx="3" fill="#000"/>
<rect x="184" y="72" width="30" height="12" rx="2" fill="#fff"/>
<rect x="227" y="74" width="33" height="17" rx="3" fill="#000"/>
<rect x="229" y="76" width="29" height="12" rx="2" fill="#fff"/>
<polygon points="89.00,28.00 91.50,46.00 93.50,46.00 96.00,28.00" fill="#000"/>
<polygon points="91.70,26.00 91.97,35.00 93.03,35.00 93.30,26.00" fill="#fff"/>
<polygon points="123.00,27.90 125.00,45.97 127.00,46.03 130.00,28.10" fill="#000"/>
<polygon points="125.76,25.98 125.77,34.98 126.84,35.01 127.36,26.02" fill="#fff"/>
<polygon points="161.50,26.82 163.00,45.95 165.00,46.05 168.50,27.18" fill="#000"/>
<polygon points="164.31,24.96 164.10,33.96 165.16,34.02 165.90,25.04" fill="#fff"/>
<polygon points="201.51,26.81 203.00,44.94 205.00,45.06 208.49,27.19" fill="#000"/>
<polygon points="204.31,24.96 204.08,33.96 205.14,34.02 205.91,25.05" fill="#fff"/>
<polygon points="84.00,86.96 81.30,68.99 79.30,69.01 77.00,87.04" fill="#000"/>
<polygon points="81.32,88.99 80.94,78.99 79.88,79.01 79.72,89.01" fill="#fff"/>
<polygon points="125.50,88.07 123.40,69.02 121.40,68.98 118.50,87.93" fill="#000"/>
<polygon points="122.76,90.02 122.70,80.01 121.64,79.99 121.16,89.98" fill="#fff"/>
<polygon points="167.50,88.00 165.00,68.00 163.00,68.00 160.50,88.00" fill="#000"/>
<polygon points="164.80,90.00 164.53,80.00 163.47,80.00 163.20,90.00" fill="#fff"/>
<polygon points="45.35,47.64 58.41,52.81 59.59,51.19 50.65,40.36" fill="#000"/>
<polygon points="46.03,43.31 51.81,47.26 52.28,46.62 46.74,42.34" fill="#fff"/>
<polygon points="42.00,64.50 59.00,60.50 59.00,58.50 42.00,54.50" fill="#000"/>
<polygon points="40.00,60.10 50.00,59.90 50.00,59.10 40.00,58.90" fill="#fff"/>
<polygon points="50.65,78.64 59.59,67.81 58.41,66.19 45.35,71.36" fill="#000"/>
<polygon points="46.74,76.66 52.28,72.38 51.81,71.74 46.03,75.69" fill="#fff"/>
<polygon points="235.50,42.88 227.38,53.22 228.62,54.78 240.50,49.12" fill="#000"/>
<polygon points="239.19,44.28 233.85,48.81 234.35,49.44 239.94,45.22" fill="#fff"/>
<polygon points="188.05,70.42 174.76,59.35 173.24,60.65 181.95,75.58" fill="#000"/>
<polygon points="186.75,74.14 182.08,68.92 181.46,69.44 185.83,74.91" fill="#fff"/>
<polygon points="232.97,74.32 221.74,66.33 220.26,67.67 227.03,79.68" fill="#000"/>
<polygon points="231.78,78.09 226.95,73.02 226.36,73.55 230.89,78.89" fill="#fff"/>
<rect x="158" y="392" width="226" height="19" fill="#000"/>
<rect x="159" y="393" width="224" height="17" fill="#fff"/>
<rect x="166" y="392" width="1" height="19" fill="#000"/>
<rect x="159" y="396" width="7" height="1" fill="#000"/>
<rect x="159" y="403" width="7" height="1" fill="#000"/>
<rect x="167" y="394" width="3" height="17" fill="#000"/>
<rect x="170" y="395" width="10" height="1" fill="#000"/>
<rect x="179" y="395" width="1" height="10" fill="#000"/>
<rect x="176" y="404" width="4" height="1" fill="#000"/>
<rect x="176" y="404" width="1" height="6" fill="#000"/>
<rect x="172" y="402" width="5" height="1" fill="#000"/>
<rect x="172" y="402" width="1" height="4" fill="#000"/>
<rect x="170" y="405" width="3" height="1" fill="#000"/>
<rect x="184" y="394" width="58" height="14" fill="#000"/>
<rect x="187" y="396" width="4" height="6" fill="#fff"/>
<rect x="188" y="403" width="2" height="4" fill="#fff"/>
<rect x="193" y="396" width="4" height="6" fill="#fff"/>
<rect x="194" y="403" width="2" height="4" fill="#fff"/>
<rect x="199" y="396" width="4" height="6" fill="#fff"/>
<rect x="200" y="403" width="2" height="4" fill="#fff"/>
<rect x="205" y="396" width="4" height="6" fill="#fff"/>
<rect x="206" y="403" width="2" height="4" fill="#fff"/>
<rect x="211" y="396" width="4" height="6" fill="#fff"/>
<rect x="212" y="403" width="2" height="4" fill="#fff"/>
<rect x="216" y="396" width="4" height="6" fill="#fff"/>
<rect x="217" y="403" width="2" height="4" fill="#fff"/>
<rect x="222" y="396" width="4" height="6" fill="#fff"/>
<rect x="223" y="403" width="2" height="4" fill="#fff"/>
<rect x="228" y="396" width="4" height="6" fill="#fff"/>
<rect x="229" y="403" width="2" height="4" fill="#fff"/>
<rect x="234" y="396" width="4" height="6" fill="#fff"/>
<rect x="235" y="403" width="2" height="4" fill="#fff"/>
<rect x="186" y="394" width="1" height="1" fill="#fff"/>
<rect x="192" y="394" width="1" height="1" fill="#fff"/>
<rect x="198" y="394" width="1" height="1" fill="#fff"/>
<rect x="204" y="394" width="1" height="1" fill="#fff"/>
<rect x="210" y="394" width="1" height="1" fill="#fff"/>
<rect x="216" y="394" width="1" height="1" fill="#fff"/>
<rect x="221" y="394" width="1" height="1" fill="#fff"/>
<rect x="227" y="394" width="1" height="1" fill="#fff"/>
<rect x="233" y="394" width="1" height="1" fill="#fff"/>
<rect x="239" y="394" width="1" height="1" fill="#fff"/>
<rect x="376" y="392" width="1" height="19" fill="#000"/>
<rect x="377" y="396" width="7" height="1" fill="#000"/>
<rect x="377" y="403" width="7" height="1" fill="#000"/>
<rect x="373" y="394" width="3" height="17" fill="#000"/>
<rect x="363" y="395" width="10" height="1" fill="#000"/>
<rect x="363" y="395" width="1" height="10" fill="#000"/>
<rect x="363" y="404" width="4" height="1" fill="#000"/>
<rect x="366" y="404" width="1" height="6" fill="#000"/>
<rect x="366" y="402" width="5" height="1" fill="#000"/>
<rect x="370" y="402" width="1" height="4" fill="#000"/>
<rect x="370" y="405" width="3" height="1" fill="#000"/>
<rect x="301" y="394" width="58" height="14" fill="#000"/>
<rect x="352" y="396" width="4" height="6" fill="#fff"/>
<rect x="353" y="403" width="2" height="4" fill="#fff"/>
<rect x="346" y="396" width="4" height="6" fill="#fff"/>
<rect x="347" y="403" width="2" height="4" fill="#fff"/>
<rect x="340" y="396" width="4" height="6" fill="#fff"/>
<rect x="341" y="403" width="2" height="4" fill="#fff"/>
<rect x="334" y="396" width="4" height="6" fill="#fff"/>
<rect x="335" y="403" width="2" height="4" fill="#fff"/>
<rect x="328" y="396" width="4" height="6" fill="#fff"/>
<rect x="329" y="403" width="2" height="4" fill="#fff"/>
<rect x="323" y="396" width="4" height="6" fill="#fff"/>
<rect x="324" y="403" width="2" height="4" fill="#fff"/>
<rect x="317" y="396" width="4" height="6" fill="#fff"/>
<rect x="318" y="403" width="2" height="4" fill="#fff"/>
<rect x="311" y="396" width="4" height="6" fill="#fff"/>
<rect x="312" y="403" width="2" height="4" fill="#fff"/>
<rect x="305" y="396" width="4" height="6" fill="#fff"/>
<rect x="306" y="403" width="2" height="4" fill="#fff"/>
<rect x="356" y="394" width="1" height="1" fill="#fff"/>
<rect x="350" y="394" width="1" height="1" fill="#fff"/>
<rect x="344" y="394" width="1" height="1" fill="#fff"/>
<rect x="338" y="394" width="1" height="1" fill="#fff"/>
<rect x="332" y="394" width="1" height="1" fill="#fff"/>
<rect x="326" y="394" width="1" height="1" fill="#fff"/>
<rect x="321" y="394" width="1" height="1" fill="#fff"/>
<rect x="315" y="394" width="1" height="1" fill="#fff"/>
<rect x="309" y="394" width="1" height="1" fill="#fff"/>
<rect x="303" y="394" width="1" height="1" fill="#fff"/>
<rect x="243" y="392" width="57" height="17" rx="3" fill="#000"/>
<rect x="245" y="394" width="53" height="13" rx="2" fill="#fff"/>
<rect x="158" y="411" width="226" height="19" fill="#000"/>
<rect x="159" y="412" width="224" height="17" fill="#fff"/>
<rect x="166" y="411" width="1" height="19" fill="#000"/>
<rect x="159" y="415" width="7" height="1" fill="#000"/>
<rect x="159" y="422" width="7" height="1" fill="#000"/>
<rect x="167" y="413" width="3" height="17" fill="#000"/>
<rect x="170" y="414" width="10" height="1" fill="#000"/>
<rect x="179" y="414" width="1" height="10" fill="#000"/>
<rect x="176" y="423" width="4" height="1" fill="#000"/>
<rect x="176" y="423" width="1" height="6" fill="#000"/>
<rect x="172" y="421" width="5" height="1" fill="#000"/>
<rect x="172" y="421" width="1" height="4" fill="#000"/>
<rect x="170" y="424" width="3" height="1" fill="#000"/>
<rect x="184" y="413" width="58" height="14" fill="#000"/>
<rect x="187" y="415" width="4" height="6" fill="#fff"/>
<rect x="188" y="422" width="2" height="4" fill="#fff"/>
<rect x="193" y="415" width="4" height="6" fill="#fff"/>
<rect x="194" y="422" width="2" height="4" fill="#fff"/>
<rect x="199" y="415" width="4" height="6" fill="#fff"/>
<rect x="200" y="422" width="2" height="4" fill="#fff"/>
<rect x="205" y="415" width="4" height="6" fill="#fff"/>
<rect x="206" y="422" width="2" height="4" fill="#fff"/>
<rect x="211" y="415" width="4" height="6" fill="#fff"/>
<rect x="212" y="422" width="2" height="4" fill="#fff"/>
<rect x="216" y="415" width="4" height="6" fill="#fff"/>
<rect x="217" y="422" width="2" height="4" fill="#fff"/>
<rect x="222" y="415" width="4" height="6" fill="#fff"/>
<rect x="223" y="422" width="2" height="4" fill="#fff"/>
<rect x="228" y="415" width="4" height="6" fill="#fff"/>
<rect x="229" y="422" width="2" height="4" fill="#fff"/>
<rect x="234" y="415" width="4" height="6" fill="#fff"/>
<rect x="235" y="422" width="2" height="4" fill="#fff"/>
<rect x="186" y="413" width="1" height="1" fill="#fff"/>
<rect x="192" y="413" width="1" height="1" fill="#fff"/>
<rect x="198" y="413" width="1" height="1" fill="#fff"/>
<rect x="204" y="413" width="1" height="1" fill="#fff"/>
<rect x="210" y="413" width="1" height="1" fill="#fff"/>
<rect x="216" y="413" width="1" height="1" fill="#fff"/>
<rect x="221" y="413" width="1" height="1" fill="#fff"/>
<rect x="227" y="413" width="1" height="1" fill="#fff"/>
<rect x="233" y="413" width="1" height="1" fill="#fff"/>
<rect x="239" y="413" width="1" height="1" fill="#fff"/>
<rect x="376" y="411" width="1" height="19" fill="#000"/>
<rect x="377" y="415" width="7" height="1" fill="#000"/>
<rect x="377" y="422" width="7" height="1" fill="#000"/>
<rect x="373" y="413" width="3" height="17" fill="#000"/>
<rect x="363" y="414" width="10" height="1" fill="#000"/>
<rect x="363" y="414" width="1" height="10" fill="#000"/>
<rect x="363" y="423" width="4" height="1" fill="#000"/>
<rect x="366" y="423" width="1" height="6" fill="#000"/>
<rect x="366" y="421" width="5" height="1" fill="#000"/>
<rect x="370" y="421" width="1" height="4" fill="#000"/>
<rect x="370" y="424" width="3" height="1" fill="#000"/>
<rect x="301" y="413" width="58" height="14" fill="#000"/>
<rect x="352" y="415" width="4" height="6" fill="#fff"/>
<rect x="353" y="422" width="2" height="4" fill="#fff"/>
<rect x="346" y="415" width="4" height="6" fill="#fff"/>
<rect x="347" y="422" width="2" height="4" fill="#fff"/>
<rect x="340" y="415" width="4" height="6" fill="#fff"/>
<rect x="341" y="422" width="2" height="4" fill="#fff"/>
<rect x="334" y="415" width="4" height="6" fill="#fff"/>
<rect x="335" y="422" width="2" height="4" fill="#fff"/>
<rect x="328" y="415" width="4" height="6" fill="#fff"/>
<rect x="329" y="422" width="2" height="4" fill="#fff"/>
<rect x="323" y="415" width="4" height="6" fill="#fff"/>
<rect x="324" y="422" width="2" height="4" fill="#fff"/>
<rect x="317" y="415" width="4" height="6" fill="#fff"/>
<rect x="318" y="422" width="2" height="4" fill="#fff"/>
<rect x="311" y="415" width="4" height="6" fill="#fff"/>
<rect x="312" y="422" width="2" height="4" fill="#fff"/>
<rect x="305" y="415" width="4" height="6" fill="#fff"/>
<rect x="306" y="422" width="2" height="4" fill="#fff"/>
<rect x="356" y="413" width="1" height="1" fill="#fff"/>
<rect x="350" y="413" width="1" height="1" fill="#fff"/>
<rect x="344" y="413" width="1" height="1" fill="#fff"/>
<rect x="338" y="413" width="1" height="1" fill="#fff"/>
<rect x="332" y="413" width="1" height="1" fill="#fff"/>
<rect x="326" y="413" width="1" height="1" fill="#fff"/>
<rect x="321" y="413" width="1" height="1" fill="#fff"/>
<rect x="315" y="413" width="1" height="1" fill="#fff"/>
<rect x="309" y="413" width="1" height="1" fill="#fff"/>
<rect x="303" y="413" width="1" height="1" fill="#fff"/>
<rect x="243" y="411" width="57" height="17" rx="3" fill="#000"/>
<rect x="245" y="413" width="53" height="13" rx="2" fill="#fff"/>
<rect x="158" y="431" width="226" height="19" fill="#000"/>
<rect x="159" y="432" width="224" height="17" fill="#fff"/>
<rect x="166" y="431" width="1" height="19" fill="#000"/>
<rect x="159" y="435" width="7" height="1" fill="#000"/>
<rect x="159" y="442" width="7" height="1" fill="#000"/>
<rect x="167" y="433" width="3" height="17" fill="#000"/>
<rect x="170" y="434" width="10" height="1" fill="#000"/>
<rect x="179" y="434" width="1" height="10" fill="#000"/>
<rect x="176" y="443" width="4" height="1" fill="#000"/>
<rect x="176" y="443" width="1" height="6" fill="#000"/>
<rect x="172" y="441" width="5" height="1" fill="#000"/>
<rect x="172" y="441" width="1" height="4" fill="#000"/>
<rect x="170" y="444" width="3" height="1" fill="#000"/>
<rect x="184" y="433" width="58" height="14" fill="#000"/>
<rect x="187" y="435" width="4" height="6" fill="#fff"/>
<rect x="188" y="442" width="2" height="4" fill="#fff"/>
<rect x="193" y="435" width="4" height="6" fill="#fff"/>
<rect x="194" y="442" width="2" height="4" fill="#fff"/>
<rect x="199" y="435" width="4" height="6" fill="#fff"/>
<rect x="200" y="442" width="2" height="4" fill="#fff"/>
<rect x="205" y="435" width="4" height="6" fill="#fff"/>
<rect x="206" y="442" width="2" height="4" fill="#fff"/>
<rect x="211" y="435" width="4" height="6" fill="#fff"/>
<rect x="212" y="442" width="2" height="4" fill="#fff"/>
<rect x="216" y="435" width="4" height="6" fill="#fff"/>
<rect x="217" y="442" width="2" height="4" fill="#fff"/>
<rect x="222" y="435" width="4" height="6" fill="#fff"/>
<rect x="223" y="442" width="2" height="4" fill="#fff"/>
<rect x="228" y="435" width="4" height="6" fill="#fff"/>
<rect x="229" y="442" width="2" height="4" fill="#fff"/>
<rect x="234" y="435" width="4" height="6" fill="#fff"/>
<rect x="235" y="442" width="2" height="4" fill="#fff"/>
<rect x="186" y="433" width="1" height="1" fill="#fff"/>
<rect x="192" y="433" width="1" height="1" fill="#fff"/>
<rect x="198" y="433" width="1" height="1" fill="#fff"/>
<rect x="204" y="433" width="1" height="1" fill="#fff"/>
<rect x="210" y="433" width="1" height="1" fill="#fff"/>
<rect x="216" y="433" width="1" height="1" fill="#fff"/>
<rect x="221" y="433" width="1" height="1" fill="#fff"/>
<rect x="227" y="433" width="1" height="1" fill="#fff"/>
<rect x="233" y="433" width="1" height="1" fill="#fff"/>
<rect x="239" y="433" width="1" height="1" fill="#fff"/>
<rect x="376" y="431" width="1" height="19" fill="#000"/>
<rect x="377" y="435" width="7" height="1" fill="#000"/>
<rect x="377" y="442" width="7" height="1" fill="#000"/>
<rect x="373" y="433" width="3" height="17" fill="#000"/>
<rect x="363" y="434" width="10" height="1" fill="#000"/>
<rect x="363" y="434" width="1" height="10" fill="#000"/>
<rect x="363" y="443" width="4" height="1" fill="#000"/>
<rect x="366" y="443" width="1" height="6" fill="#000"/>
<rect x="366" y="441" width="5" height="1" fill="#000"/>
<rect x="370" y="441" width="1" height="4" fill="#000"/>
<rect x="370" y="444" width="3" height="1" fill="#000"/>
<rect x="301" y="433" width="58" height="14" fill="#000"/>
<rect x="352" y="435" width="4" height="6" fill="#fff"/>
<rect x="353" y="442" width="2" height="4" fill="#fff"/>
<rect x="346" y="435" width="4" height="6" fill="#fff"/>
<rect x="347" y="442" width="2" height="4" fill="#fff"/>
<rect x="340" y="435" width="4" height="6" fill="#fff"/>
<rect x="341" y="442" width="2" height="4" fill="#fff"/>
<rect x="334" y="435" width="4" height="6" fill="#fff"/>
<rect x="335" y="442" width="2" height="4" fill="#fff"/>
<rect x="328" y="435" width="4" height="6" fill="#fff"/>
<rect x="329" y="442" width="2" height="4" fill="#fff"/>
<rect x="323" y="435" width="4" height="6" fill="#fff"/>
<rect x="324" y="442" width="2" height="4" fill="#fff"/>
<rect x="317" y="435" width="4" height="6" fill="#fff"/>
<rect x="318" y="442" width="2" height="4" fill="#fff"/>
<rect x="311" y="435" width="4" height="6" fill="#fff"/>
<rect x="312" y="442" width="2" height="4" fill="#fff"/>
<rect x="305" y="435" width="4" height="6" fill="#fff"/>
<rect x="306" y="442" width="2" height="4" fill="#fff"/>
<rect x="356" y="433" width="1" height="1" fill="#fff"/>
<rect x="350" y="433" width="1" height="1" fill="#fff"/>
<rect x="344" y="433" width="1" height="1" fill="#fff"/>
<rect x="338" y="433" width="1" height="1" fill="#fff"/>
<rect x="332" y="433" width="1" height="1" fill="#fff"/>
<rect x="326" y="433" width="1" height="1" fill="#fff"/>
<rect x="321" y="433" width="1" height="1" fill="#fff"/>
<rect x="315" y="433" width="1" height="1" fill="#fff"/>
<rect x="309" y="433" width="1" height="1" fill="#fff"/>
<rect x="303" y="433" width="1" height="1" fill="#fff"/>
<rect x="243" y="431" width="57" height="17" rx="3" fill="#000"/>
<rect x="245" y="433" width="53" height="13" rx="2" fill="#fff"/>
<rect x="158" y="451" width="226" height="19" fill="#000"/>
<rect x="159" y="452" width="224" height="17" fill="#fff"/>
<rect x="166" y="451" width="1" height="19" fill="#000"/>
<rect x="159" y="455" width="7" height="1" fill="#000"/>
<rect x="159" y="462" width="7" height="1" fill="#000"/>
<rect x="167" y="453" width="3" height="17" fill="#000"/>
<rect x="170" y="454" width="10" height="1" fill="#000"/>
<rect x="179" y="454" width="1" height="10" fill="#000"/>
<rect x="176" y="463" width="4" height="1" fill="#000"/>
<rect x="176" y="463" width="1" height="6" fill="#000"/>
<rect x="172" y="461" width="5" height="1" fill="#000"/>
<rect x="172" y="461" width="1" height="4" fill="#000"/>
<rect x="170" y="464" width="3" height="1" fill="#000"/>
<rect x="184" y="453" width="58" height="14" fill="#000"/>
<rect x="187" y="455" width="4" height="6" fill="#fff"/>
<rect x="188" y="462" width="2" height="4" fill="#fff"/>
<rect x="193" y="455" width="4" height="6" fill="#fff"/>
<rect x="194" y="462" width="2" height="4" fill="#fff"/>
<rect x="199" y="455" width="4" height="6" fill="#fff"/>
<rect x="200" y="462" width="2" height="4" fill="#fff"/>
<rect x="205" y="455" width="4" height="6" fill="#fff"/>
<rect x="206" y="462" width="2" height="4" fill="#fff"/>
<rect x="211" y="455" width="4" height="6" fill="#fff"/>
<rect x="212" y="462" width="2" height="4" fill="#fff"/>
<rect x="216" y="455" width="4" height="6" fill="#fff"/>
<rect x="217" y="462" width="2" height="4" fill="#fff"/>
<rect x="222" y="455" width="4" height="6" fill="#fff"/>
<rect x="223" y="462" width="2" height="4" fill="#fff"/>
<rect x="228" y="455" width="4" height="6" fill="#fff"/>
<rect x="229" y="462" width="2" height="4" fill="#fff"/>
<rect x="234" y="455" width="4" height="6" fill="#fff"/>
<rect x="235" y="462" width="2" height="4" fill="#fff"/>
<rect x="186" y="453" width="1" height="1" fill="#fff"/>
<rect x="192" y="453" width="1" height="1" fill="#fff"/>
<rect x="198" y="453" width="1" height="1" fill="#fff"/>
<rect x="204" y="453" width="1" height="1" fill="#fff"/>
<rect x="210" y="453" width="1" height="1" fill="#fff"/>
<rect x="216" y="453" width="1" height="1" fill="#fff"/>
<rect x="221" y="453" width="1" height="1" fill="#fff"/>
<rect x="227" y="453" width="1" height="1" fill="#fff"/>
<rect x="233" y="453" width="1" height="1" fill="#fff"/>
<rect x="239" y="453" width="1" height="1" fill="#fff"/>
<rect x="376" y="451" width="1" height="19" fill="#000"/>
<rect x="377" y="455" width="7" height="1" fill="#000"/>
<rect x="377" y="462" width="7" height="1" fill="#000"/>
<rect x="373" y="453" width="3" height="17" fill="#000"/>
<rect x="363" y="454" width="10" height="1" fill="#000"/>
<rect x="363" y="454" width="1" height="10" fill="#000"/>
<rect x="363" y="463" width="4" height="1" fill="#000"/>
<rect x="366" y="463" width="1" height="6" fill="#000"/>
<rect x="366" y="461" width="5" height="1" fill="#000"/>
<rect x="370" y="461" width="1" height="4" fill="#000"/>
<rect x="370" y="464" width="3" height="1" fill="#000"/>
<rect x="301" y="453" width="58" height="14" fill="#000"/>
<rect x="352" y="455" width="4" height="6" fill="#fff"/>
<rect x="353" y="462" width="2" height="4" fill="#fff"/>
<rect x="346" y="455" width="4" height="6" fill="#fff"/>
<rect x="347" y="462" width="2" height="4" fill="#fff"/>
<rect x="340" y="455" width="4" height="6" fill="#fff"/>
<rect x="341" y="462" width="2" height="4" fill="#fff"/>
<rect x="334" y="455" width="4" height="6" fill="#fff"/>
<rect x="335" y="462" width="2" height="4" fill="#fff"/>
<rect x="328" y="455" width="4" height="6" fill="#fff"/>
<rect x="329" y="462" width="2" height="4" fill="#fff"/>
<rect x="323" y="455" width="4" height="6" fill="#fff"/>
<rect x="324" y="462" width="2" height="4" fill="#fff"/>
<rect x="317" y="455" width="4" height="6" fill="#fff"/>
<rect x="318" y="462" width="2" height="4" fill="#fff"/>
<rect x="311" y="455" width="4" height="6" fill="#fff"/>
<rect x="312" y="462" width="2" height="4" fill="#fff"/>
<rect x="305" y="455" width="4" height="6" fill="#fff"/>
<rect x="306" y="462" width="2" height="4" fill="#fff"/>
<rect x="356" y="453" width="1" height="1" fill="#fff"/>
<rect x="350" y="453" width="1" height="1" fill="#fff"/>
<rect x="344" y="453" width="1" height="1" fill="#fff"/>
<rect x="338" y="453" width="1" height="1" fill="#fff"/>
<rect x="332" y="453" width="1" height="1" fill="#fff"/>
<rect x="326" y="453" width="1" height="1" fill="#fff"/>
<rect x="321" y="453" width="1" height="1" fill="#fff"/>
<rect x="315" y="453" width="1" height="1" fill="#fff"/>
<rect x="309" y="453" width="1" height="1" fill="#fff"/>
<rect x="303" y="453" width="1" height="1" fill="#fff"/>
<rect x="243" y="451" width="57" height="17" rx="3" fill="#000"/>
<rect x="245" y="453" width="53" height="13" rx="2" fill="#fff"/>
<rect x="158" y="471" width="226" height="19" fill="#000"/>
<rect x="159" y="472" width="224" height="17" fill="#fff"/>
<rect x="166" y="471" width="1" height="19" fill="#000"/>
<rect x="159" y="475" width="7" height="1" fill="#000"/>
<rect x="159" y="482" width="7" height="1" fill="#000"/>
<rect x="167" y="473" width="3" height="17" fill="#000"/>
<rect x="170" y="474" width="10" height="1" fill="#000"/>
<rect x="179" y="474" width="1" height="10" fill="#000"/>
<rect x="176" y="483" width="4" height="1" fill="#000"/>
<rect x="176" y="483" width="1" height="6" fill="#000"/>
<rect x="172" y="481" width="5" height="1" fill="#000"/>
<rect x="172" y="481" width="1" height="4" fill="#000"/>
<rect x="170" y="484" width="3" height="1" fill="#000"/>
<rect x="184" y="473" width="58" height="14" fill="#000"/>
<rect x="187" y="475" width="4" height="6" fill="#fff"/>
<rect x="188" y="482" width="2" height="4" fill="#fff"/>
<rect x="193" y="475" width="4" height="6" fill="#fff"/>
<rect x="194" y="482" width="2" height="4" fill="#fff"/>
<rect x="199" y="475" width="4" height="6" fill="#fff"/>
<rect x="200" y="482" width="2" height="4" fill="#fff"/>
<rect x="205" y="475" width="4" height="6" fill="#fff"/>
<rect x="206" y="482" width="2" height="4" fill="#fff"/>
<rect x="211" y="475" width="4" height="6" fill="#fff"/>
<rect x="212" y="482" width="2" height="4" fill="#fff"/>
<rect x="216" y="475" width="4" height="6" fill="#fff"/>
<rect x="217" y="482" width="2" height="4" fill="#fff"/>
<rect x="222" y="475" width="4" height="6" fill="#fff"/>
<rect x="223" y="482" width="2" height="4" fill="#fff"/>
<rect x="228" y="475" width="4" height="6" fill="#fff"/>
<rect x="229" y="482" width="2" height="4" fill="#fff"/>
<rect x="234" y="475" width="4" height="6" fill="#fff"/>
<rect x="235" y="482" width="2" height="4" fill="#fff"/>
<rect x="186" y="473" width="1" height="1" fill="#fff"/>
<rect x="192" y="473" width="1" height="1" fill="#fff"/>
<rect x="198" y="473" width="1" height="1" fill="#fff"/>
<rect x="204" y="473" width="1" height="1" fill="#fff"/>
<rect x="210" y="473" width="1" height="1" fill="#fff"/>
<rect x="216" y="473" width="1" height="1" fill="#fff"/>
<rect x="221" y="473" width="1" height="1" fill="#fff"/>
<rect x="227" y="473" width="1" height="1" fill="#fff"/>
<rect x="233" y="473" width="1" height="1" fill="#fff"/>
<rect x="239" y="473" width="1" height="1" fill="#fff"/>
<rect x="376" y="471" width="1" height="19" fill="#000"/>
<rect x="377" y="475" width="7" height="1" fill="#000"/>
<rect x="377" y="482" width="7" height="1" fill="#000"/>
<rect x="373" y="473" width="3" height="17" fill="#000"/>
<rect x="363" y="474" width="10" height="1" fill="#000"/>
<rect x="363" y="474" width="1" height="10" fill="#000"/>
<rect x="363" y="483" width="4" height="1" fill="#000"/>
<rect x="366" y="483" width="1" height="6" fill="#000"/>
<rect x="366" y="481" width="5" height="1" fill="#000"/>
<rect x="370" y="481" width="1" height="4" fill="#000"/>
<rect x="370" y="484" width="3" height="1" fill="#000"/>
<rect x="301" y="473" width="58" height="14" fill="#000"/>
<rect x="352" y="475" width="4" height="6" fill="#fff"/>
<rect x="353" y="482" width="2" height="4" fill="#fff"/>
<rect x="346" y="475" width="4" height="6" fill="#fff"/>
<rect x="347" y="482" width="2" height="4" fill="#fff"/>
<rect x="340" y="475" width="4" height="6" fill="#fff"/>
<rect x="341" y="482" width="2" height="4" fill="#fff"/>
<rect x="334" y="475" width="4" height="6" fill="#fff"/>
<rect x="335" y="482" width="2" height="4" fill="#fff"/>
<rect x="328" y="475" width="4" height="6" fill="#fff"/>
<rect x="329" y="482" width="2" height="4" fill="#fff"/>
<rect x="323" y="475" width="4" height="6" fill="#fff"/>
<rect x="324" y="482" width="2" height="4" fill="#fff"/>
<rect x="317" y="475" width="4" height="6" fill="#fff"/>
<rect x="318" y="482" width="2" height="4" fill="#fff"/>
<rect x="311" y="475" width="4" height="6" fill="#fff"/>
<rect x="312" y="482" width="2" height="4" fill="#fff"/>
<rect x="305" y="475" width="4" height="6" fill="#fff"/>
<rect x="306" y="482" width="2" height="4" fill="#fff"/>
<rect x="356" y="473" width="1" height="1" fill="#fff"/>
<rect x="350" y="473" width="1" height="1" fill="#fff"/>
<rect x="344" y="473" width="1" height="1" fill="#fff"/>
<rect x="338" y="473" width="1" height="1" fill="#fff"/>
<rect x="332" y="473" width="1" height="1" fill="#fff"/>
<rect x="326" y="473" width="1" height="1" fill="#fff"/>
<rect x="321" y="473" width="1" height="1" fill="#fff"/>
<rect x="315" y="473" width="1" height="1" fill="#fff"/>
<rect x="309" y="473" width="1" height="1" fill="#fff"/>
<rect x="303" y="473" width="1" height="1" fill="#fff"/>
<rect x="243" y="471" width="57" height="17" rx="3" fill="#000"/>
<rect x="245" y="473" width="53" height="13" rx="2" fill="#fff"/>
<rect x="158" y="490" width="226" height="19" fill="#000"/>
<rect x="159" y="491" width="224" height="17" fill="#fff"/>
<rect x="166" y="490" width="1" height="19" fill="#000"/>
<rect x="159" y="494" width="7" height="1" fill="#000"/>
<rect x="159" y="501" width="7" height="1" fill="#000"/>
<rect x="167" y="492" width="3" height="17" fill="#000"/>
<rect x="170" y="493" width="10" height="1" fill="#000"/>
<rect x="179" y="493" width="1" height="10" fill="#000"/>
<rect x="176" y="502" width="4" height="1" fill="#000"/>
<rect x="176" y="502" width="1" height="6" fill="#000"/>
<rect x="172" y="500" width="5" height="1" fill="#000"/>
<rect x="172" y="500" width="1" height="4" fill="#000"/>
<rect x="170" y="503" width="3" height="1" fill="#000"/>
<rect x="184" y="492" width="58" height="14" fill="#000"/>
<rect x="187" y="494" width="4" height="6" fill="#fff"/>
<rect x="188" y="501" width="2" height="4" fill="#fff"/>
<rect x="193" y="494" width="4" height="6" fill="#fff"/>
<rect x="194" y="501" width="2" height="4" fill="#fff"/>
<rect x="199" y="494" width="4" height="6" fill="#fff"/>
<rect x="200" y="501" width="2" height="4" fill="#fff"/>
<rect x="205" y="494" width="4" height="6" fill="#fff"/>
<rect x="206" y="501" width="2" height="4" fill="#fff"/>
<rect x="211" y="494" width="4" height="6" fill="#fff"/>
<rect x="212" y="501" width="2" height="4" fill="#fff"/>
<rect x="216" y="494" width="4" height="6" fill="#fff"/>
<rect x="217" y="501" width="2" height="4" fill="#fff"/>
<rect x="222" y="494" width="4" height="6" fill="#fff"/>
<rect x="223" y="501" width="2" height="4" fill="#fff"/>
<rect x="228" y="494" width="4" height="6" fill="#fff"/>
<rect x="229" y="501" width="2" height="4" fill="#fff"/>
<rect x="234" y="494" width="4" height="6" fill="#fff"/>
<rect x="235" y="501" width="2" height="4" fill="#fff"/>
<rect x="186" y="492" width="1" height="1" fill="#fff"/>
<rect x="192" y="492" width="1" height="1" fill="#fff"/>
<rect x="198" y="492" width="1" height="1" fill="#fff"/>
<rect x="204" y="492" width="1" height="1" fill="#fff"/>
<rect x="210" y="492" width="1" height="1" fill="#fff"/>
<rect x="216" y="492" width="1" height="1" fill="#fff"/>
<rect x="221" y="492" width="1" height="1" fill="#fff"/>
<rect x="227" y="492" width="1" height="1" fill="#fff"/>
<rect x="233" y="492" width="1" height="1" fill="#fff"/>
<rect x="239" y="492" width="1" height="1" fill="#fff"/>
<rect x="376" y="490" width="1" height="19" fill="#000"/>
<rect x="377" y="494" width="7" height="1" fill="#000"/>
<rect x="377" y="501" width="7" height="1" fill="#000"/>
<rect x="373" y="492" width="3" height="17" fill="#000"/>
<rect x="363" y="493" width="10" height="1" fill="#000"/>
<rect x="363" y="493" width="1" height="10" fill="#000"/>
<rect x="363" y="502" width="4" height="1" fill="#000"/>
<rect x="366" y="502" width="1" height="6" fill="#000"/>
<rect x="366" y="500" width="5" height="1" fill="#000"/>
<rect x="370" y="500" width="1" height="4" fill="#000"/>
<rect x="370" y="503" width="3" height="1" fill="#000"/>
<rect x="301" y="492" width="58" height="14" fill="#000"/>
<rect x="352" y="494" width="4" height="6" fill="#fff"/>
<rect x="353" y="501" width="2" height="4" fill="#fff"/>
<rect x="346" y="494" width="4" height="6" fill="#fff"/>
<rect x="347" y="501" width="2" height="4" fill="#fff"/>
<rect x="340" y="494" width="4" height="6" fill="#fff"/>
<rect x="341" y="501" width="2" height="4" fill="#fff"/>
<rect x="334" y="494" width="4" height="6" fill="#fff"/>
<rect x="335" y="501" width="2" height="4" fill="#fff"/>
<rect x="328" y="494" width="4" height="6" fill="#fff"/>
<rect x="329" y="501" width="2" height="4" fill="#fff"/>
<rect x="323" y="494" width="4" height="6" fill="#fff"/>
<rect x="324" y="501" width="2" height="4" fill="#fff"/>
<rect x="317" y="494" width="4" height="6" fill="#fff"/>
<rect x="318" y="501" width="2" height="4" fill="#fff"/>
<rect x="311" y="494" width="4" height="6" fill="#fff"/>
<rect x="312" y="501" width="2" height="4" fill="#fff"/>
<rect x="305" y="494" width="4" height="6" fill="#fff"/>
<rect x="306" y="501" width="2" height="4" fill="#fff"/>
<rect x="356" y="492" width="1" height="1" fill="#fff"/>
<rect x="350" y="492" width="1" height="1" fill="#fff"/>
<rect x="344" y="492" width="1" height="1" fill="#fff"/>
<rect x="338" y="492" width="1" height="1" fill="#fff"/>
<rect x="332" y="492" width="1" height="1" fill="#fff"/>
<rect x="326" y="492" width="1" height="1" fill="#fff"/>
<rect x="321" y="492" width="1" height="1" fill="#fff"/>
<rect x="315" y="492" width="1" height="1" fill="#fff"/>
<rect x="309" y="492" width="1" height="1" fill="#fff"/>
<rect x="303" y="492" width="1" height="1" fill="#fff"/>
<rect x="243" y="490" width="57" height="17" rx="3" fill="#000"/>
<rect x="245" y="492" width="53" height="13" rx="2" fill="#fff"/>
<rect x="158" y="510" width="226" height="19" fill="#000"/>
<rect x="159" y="511" width="224" height="17" fill="#fff"/>
<rect x="166" y="510" width="1" height="19" fill="#000"/>
<rect x="159" y="514" width="7" height="1" fill="#000"/>
<rect x="159" y="521" width="7" height="1" fill="#000"/>
<rect x="167" y="512" width="3" height="17" fill="#000"/>
<rect x="170" y="513" width="10" height="1" fill="#000"/>
<rect x="179" y="513" width="1" height="10" fill="#000"/>
<rect x="176" y="522" width="4" height="1" fill="#000"/>
<rect x="176" y="522" width="1" height="6" fill="#000"/>
<rect x="172" y="520" width="5" height="1" fill="#000"/>
<rect x="172" y="520" width="1" height="4" fill="#000"/>
<rect x="170" y="523" width="3" height="1" fill="#000"/>
<rect x="184" y="512" width="58" height="14" fill="#000"/>
<rect x="187" y="514" width="4" height="6" fill="#fff"/>
<rect x="188" y="521" width="2" height="4" fill="#fff"/>
<rect x="193" y="514" width="4" height="6" fill="#fff"/>
<rect x="194" y="521" width="2" height="4" fill="#fff"/>
<rect x="199" y="514" width="4" height="6" fill="#fff"/>
<rect x="200" y="521" width="2" height="4" fill="#fff"/>
<rect x="205" y="514" width="4" height="6" fill="#fff"/>
<rect x="206" y="521" width="2" height="4" fill="#fff"/>
<rect x="211" y="514" width="4" height="6" fill="#fff"/>
<rect x="212" y="521" width="2" height="4" fill="#fff"/>
<rect x="216" y="514" width="4" height="6" fill="#fff"/>
<rect x="217" y="521" width="2" height="4" fill="#fff"/>
<rect x="222" y="514" width="4" height="6" fill="#fff"/>
<rect x="223" y="521" width="2" height="4" fill="#fff"/>
<rect x="228" y="514" width="4" height="6" fill="#fff"/>
<rect x="229" y="521" width="2" height="4" fill="#fff"/>
<rect x="234" y="514" width="4" height="6" fill="#fff"/>
<rect x="235" y="521" width="2" height="4" fill="#fff"/>
<rect x="186" y="512" width="1" height="1" fill="#fff"/>
<rect x="192" y="512" width="1" height="1" fill="#fff"/>
<rect x="198" y="512" width="1" height="1" fill="#fff"/>
<rect x="204" y="512" width="1" height="1" fill="#fff"/>
<rect x="210" y="512" width="1" height="1" fill="#fff"/>
<rect x="216" y="512" width="1" height="1" fill="#fff"/>
<rect x="221" y="512" width="1" height="1" fill="#fff"/>
<rect x="227" y="512" width="1" height="1" fill="#fff"/>
<rect x="233" y="512" width="1" height="1" fill="#fff"/>
<rect x="239" y="512" width="1" height="1" fill="#fff"/>
<rect x="376" y="510" width="1" height="19" fill="#000"/>
<rect x="377" y="514" width="7" height="1" fill="#000"/>
<rect x="377" y="521" width="7" height="1" fill="#000"/>
<rect x="373" y="512" width="3" height="17" fill="#000"/>
<rect x="363" y="513" width="10" height="1" fill="#000"/>
<rect x="363" y="513" width="1" height="10" fill="#000"/>
<rect x="363" y="522" width="4" height="1" fill="#000"/>
<rect x="366" y="522" width="1" height="6" fill="#000"/>
<rect x="366" y="520" width="5" height="1" fill="#000"/>
<rect x="370" y="520" width="1" height="4" fill="#000"/>
<rect x="370" y="523" width="3" height="1" fill="#000"/>
<rect x="301" y="512" width="58" height="14" fill="#000"/>
<rect x="352" y="514" width="4" height="6" fill="#fff"/>
<rect x="353" y="521" width="2" height="4" fill="#fff"/>
<rect x="346" y="514" width="4" height="6" fill="#fff"/>
<rect x="347" y="521" width="2" height="4" fill="#fff"/>
<rect x="340" y="514" width="4" height="6" fill="#fff"/>
<rect x="341" y="521" width="2" height="4" fill="#fff"/>
<rect x="334" y="514" width="4" height="6" fill="#fff"/>
<rect x="335" y="521" width="2" height="4" fill="#fff"/>
<rect x="328" y="514" width="4" height="6" fill="#fff"/>
<rect x="329" y="521" width="2" height="4" fill="#fff"/>
<rect x="323" y="514" width="4" height="6" fill="#fff"/>
<rect x="324" y="521" width="2" height="4" fill="#fff"/>
<rect x="317" y="514" width="4" height="6" fill="#fff"/>
<rect x="318" y="521" width="2" height="4" fill="#fff"/>
<rect x="311" y="514" width="4" height="6" fill="#fff"/>
<rect x="312" y="521" width="2" height="4" fill="#fff"/>
<rect x="305" y="514" width="4" height="6" fill="#fff"/>
<rect x="306" y="521" width="2" height="4" fill="#fff"/>
<rect x="356" y="512" width="1" height="1" fill="#fff"/>
<rect x="350" y="512" width="1" height="1" fill="#fff"/>
<rect x="344" y="512" width="1" height="1" fill="#fff"/>
<rect x="338" y="512" width="1" height="1" fill="#fff"/>
<rect x="332" y="512" width="1" height="1" fill="#fff"/>
<rect x="326" y="512" width="1" height="1" fill="#fff"/>
<rect x="321" y="512" width="1" height="1" fill="#fff"/>
<rect x="315" y="512" width="1" height="1" fill="#fff"/>
<rect x="309" y="512" width="1" height="1" fill="#fff"/>
<rect x="303" y="512" width="1" height="1" fill="#fff"/>
<rect x="243" y="510" width="57" height="17" rx="3" fill="#000"/>
<rect x="245" y="512" width="53" height="13" rx="2" fill="#fff"/>
<rect x="158" y="530" width="226" height="19" fill="#000"/>
<rect x="159" y="531" width="224" height="17" fill="#fff"/>
<rect x="166" y="530" width="1" height="19" fill="#000"/>
<rect x="159" y="534" width="7" height="1" fill="#000"/>
<rect x="159" y="541" width="7" height="1" fill="#000"/>
<rect x="167" y="532" width="3" height="17" fill="#000"/>
<rect x="170" y="533" width="10" height="1" fill="#000"/>
<rect x="179" y="533" width="1" height="10" fill="#000"/>
<rect x="176" y="542" width="4" height="1" fill="#000"/>
<rect x="176" y="542" width="1" height="6" fill="#000"/>
<rect x="172" y="540" width="5" height="1" fill="#000"/>
<rect x="172" y="540" width="1" height="4" fill="#000"/>
<rect x="170" y="543" width="3" height="1" fill="#000"/>
<rect x="184" y="532" width="58" height="14" fill="#000"/>
<rect x="187" y="534" width="4" height="6" fill="#fff"/>
<rect x="188" y="541" width="2" height="4" fill="#fff"/>
<rect x="193" y="534" width="4" height="6" fill="#fff"/>
<rect x="194" y="541" width="2" height="4" fill="#fff"/>
<rect x="199" y="534" width="4" height="6" fill="#fff"/>
<rect x="200" y="541" width="2" height="4" fill="#fff"/>
<rect x="205" y="534" width="4" height="6" fill="#fff"/>
<rect x="206" y="541" width="2" height="4" fill="#fff"/>
<rect x="211" y="534" width="4" height="6" fill="#fff"/>
<rect x="212" y="541" width="2" height="4" fill="#fff"/>
<rect x="216" y="534" width="4" height="6" fill="#fff"/>
<rect x="217" y="541" width="2" height="4" fill="#fff"/>
<rect x="222" y="534" width="4" height="6" fill="#fff"/>
<rect x="223" y="541" width="2" height="4" fill="#fff"/>
<rect x="228" y="534" width="4" height="6" fill="#fff"/>
<rect x="229" y="541" width="2" height="4" fill="#fff"/>
<rect x="234" y="534" width="4" height="6" fill="#fff"/>
<rect x="235" y="541" width="2" height="4" fill="#fff"/>
<rect x="186" y="532" width="1" height="1" fill="#fff"/>
<rect x="192" y="532" width="1" height="1" fill="#fff"/>
<rect x="198" y="532" width="1" height="1" fill="#fff"/>
<rect x="204" y="532" width="1" height="1" fill="#fff"/>
<rect x="210" y="532" width="1" height="1" fill="#fff"/>
<rect x="216" y="532" width="1" height="1" fill="#fff"/>
<rect x="221" y="532" width="1" height="1" fill="#fff"/>
<rect x="227" y="532" width="1" height="1" fill="#fff"/>
<rect x="233" y="532" width="1" height="1" fill="#fff"/>
<rect x="239" y="532" width="1" height="1" fill="#fff"/>
<rect x="376" y="530" width="1" height="19" fill="#000"/>
<rect x="377" y="534" width="7" height="1" fill="#000"/>
<rect x="377" y="541" width="7" height="1" fill="#000"/>
<rect x="373" y="532" width="3" height="17" fill="#000"/>
<rect x="363" y="533" width="10" height="1" fill="#000"/>
<rect x="363" y="533" width="1" height="10" fill="#000"/>
<rect x="363" y="542" width="4" height="1" fill="#000"/>
<rect x="366" y="542" width="1" height="6" fill="#000"/>
<rect x="366" y="540" width="5" height="1" fill="#000"/>
<rect x="370" y="540" width="1" height="4" fill="#000"/>
<rect x="370" y="543" width="3" height="1" fill="#000"/>
<rect x="301" y="532" width="58" height="14" fill="#000"/>
<rect x="352" y="534" width="4" height="6" fill="#fff"/>
<rect x="353" y="541" width="2" height="4" fill="#fff"/>
<rect x="346" y="534" width="4" height="6" fill="#fff"/>
<rect x="347" y="541" width="2" height="4" fill="#fff"/>
<rect x="340" y="534" width="4" height="6" fill="#fff"/>
<rect x="341" y="541" width="2" height="4" fill="#fff"/>
<rect x="334" y="534" width="4" height="6" fill="#fff"/>
<rect x="335" y="541" width="2" height="4" fill="#fff"/>
<rect x="328" y="534" width="4" height="6" fill="#fff"/>
<rect x="329" y="541" width="2" height="4" fill="#fff"/>
<rect x="323" y="534" width="4" height="6" fill="#fff"/>
<rect x="324" y="541" width="2" height="4" fill="#fff"/>
<rect x="317" y="534" width="4" height="6" fill="#fff"/>
<rect x="318" y="541" width="2" height="4" fill="#fff"/>
<rect x="311" y="534" width="4" height="6" fill="#fff"/>
<rect x="312" y="541" width="2" height="4" fill="#fff"/>
<rect x="305" y="534" width="4" height="6" fill="#fff"/>
<rect x="306" y="541" width="2" height="4" fill="#fff"/>
<rect x="356" y="532" width="1" height="1" fill="#fff"/>
<rect x="350" y="532" width="1" height="1" fill="#fff"/>
<rect x="344" y="532" width="1" height="1" fill="#fff"/>
<rect x="338" y="532" width="1" height="1" fill="#fff"/>
<rect x="332" y="532" width="1" height="1" fill="#fff"/>
<rect x="326" y="532" width="1" height="1" fill="#fff"/>
<rect x="321" y="532" width="1" height="1" fill="#fff"/>
<rect x="315" y="532" width="1" height="1" fill="#fff"/>
<rect x="309" y="532" width="1" height="1" fill="#fff"/>
<rect x="303" y="532" width="1" height="1" fill="#fff"/>
<rect x="243" y="530" width="57" height="17" rx="3" fill="#000"/>
<rect x="245" y="532" width="53" height="13" rx="2" fill="#fff"/>
<rect x="499" y="430" width="26" height="6" fill="#000"/>
<rect x="500" y="431" width="1" height="4" fill="#fff"/>
<rect x="502" y="431" width="3" height="4" fill="#fff"/>
<rect x="503" y="432" width="1" height="2" fill="#000"/>
<rect x="506" y="431" width="1" height="4" fill="#fff"/>
<rect x="511" y="431" width="2" height="4" fill="#fff"/>
<rect x="517" y="431" width="1" height="4" fill="#fff"/>
<rect x="523" y="431" width="1" height="4" fill="#fff"/>
<rect x="459" y="424" width="26" height="18" rx="3" fill="#000"/>
<rect x="461" y="426" width="22" height="13" rx="2" fill="#fff"/>
<polygon points="483.00,436.50 497.00,433.75 497.00,432.25 483.00,429.50" fill="#000"/>
<polygon points="481.00,433.60 489.00,433.40 489.00,432.60 481.00,432.40" fill="#fff"/>
<rect x="497" y="432" width="2" height="2" fill="#000"/>
<path d="M569,414.5 H591 L593.5,416.5 L594.5,420 L593,423 V430 L594.5,433 L593,436 V444 L594.5,447 L593.5,451 L591,454.5 H569 L566.5,451 L565.5,447 L567,444 V436 L565.5,433 L567,430 V423 L565.5,420 L566.5,416.5 Z" fill="none" stroke="#000" stroke-width="1" shape-rendering="auto"/>
<rect x="393" y="471" width="126" height="42" fill="#000"/>
<rect x="476" y="511" width="4" height="1" fill="#fff"/>
<rect x="483" y="511" width="3" height="1" fill="#fff"/>
<rect x="488" y="511" width="4" height="1" fill="#fff"/>
<rect x="495" y="511" width="3" height="1" fill="#fff"/>
<rect x="501" y="511" width="4" height="1" fill="#fff"/>
<rect x="507" y="511" width="4" height="1" fill="#fff"/>
<rect x="514" y="511" width="3" height="1" fill="#fff"/>
<rect x="397" y="511" width="3" height="1" fill="#fff"/>
<rect x="403" y="511" width="3" height="1" fill="#fff"/>
<rect x="409" y="511" width="3" height="1" fill="#fff"/>
<rect x="415" y="511" width="3" height="1" fill="#fff"/>
<rect x="421" y="511" width="3" height="1" fill="#fff"/>
<rect x="427" y="511" width="3" height="1" fill="#fff"/>
<rect x="433" y="511" width="3" height="1" fill="#fff"/>
<rect x="439" y="511" width="3" height="1" fill="#fff"/>
<rect x="445" y="511" width="3" height="1" fill="#fff"/>
<rect x="451" y="511" width="3" height="1" fill="#fff"/>
<rect x="457" y="511" width="3" height="1" fill="#fff"/>
<rect x="463" y="511" width="3" height="1" fill="#fff"/>
<rect x="469" y="511" width="3" height="1" fill="#fff"/>
<rect x="517" y="486" width="2" height="12" fill="#fff"/>
<rect x="442" y="484" width="28" height="15" fill="#fff"/>
<rect x="406" y="518" width="114" height="24" fill="#000"/>
<rect x="407" y="519" width="112" height="22" fill="#fff"/>
<rect x="406" y="533" width="1" height="5" fill="#fff"/>
<rect x="407" y="533" width="1" height="5" fill="#000"/>
<rect x="517" y="533" width="1" height="5" fill="#000"/>
<rect x="410" y="521" width="3" height="1" fill="#000"/>
<rect x="408" y="522" width="7" height="2" fill="#000"/>
<rect x="410" y="524" width="3" height="2" fill="#000"/>
<rect x="408" y="528" width="7" height="3" rx="1" fill="#000"/>
<rect x="419" y="521" width="3" height="1" fill="#000"/>
<rect x="417" y="522" width="7" height="2" fill="#000"/>
<rect x="419" y="524" width="3" height="2" fill="#000"/>
<rect x="417" y="528" width="7" height="3" rx="1" fill="#000"/>
<rect x="428" y="521" width="3" height="1" fill="#000"/>
<rect x="426" y="522" width="7" height="2" fill="#000"/>
<rect x="428" y="524" width="3" height="2" fill="#000"/>
<rect x="426" y="528" width="7" height="3" rx="1" fill="#000"/>
<rect x="438" y="521" width="3" height="1" fill="#000"/>
<rect x="436" y="522" width="7" height="2" fill="#000"/>
<rect x="438" y="524" width="3" height="2" fill="#000"/>
<rect x="436" y="528" width="7" height="3" rx="1" fill="#000"/>
<rect x="447" y="521" width="3" height="1" fill="#000"/>
<rect x="445" y="522" width="7" height="2" fill="#000"/>
<rect x="447" y="524" width="3" height="2" fill="#000"/>
<rect x="445" y="528" width="7" height="3" rx="1" fill="#000"/>
<rect x="456" y="521" width="3" height="1" fill="#000"/>
<rect x="454" y="522" width="7" height="2" fill="#000"/>
<rect x="456" y="524" width="3" height="2" fill="#000"/>
<rect x="454" y="528" width="7" height="3" rx="1" fill="#000"/>
<rect x="465" y="521" width="3" height="1" fill="#000"/>
<rect x="463" y="522" width="7" height="2" fill="#000"/>
<rect x="465" y="524" width="3" height="2" fill="#000"/>
<rect x="463" y="528" width="7" height="3" rx="1" fill="#000"/>
<rect x="474" y="521" width="3" height="1" fill="#000"/>
<rect x="472" y="522" width="7" height="2" fill="#000"/>
<rect x="474" y="524" width="3" height="2" fill="#000"/>
<rect x="472" y="528" width="7" height="3" rx="1" fill="#000"/>
<rect x="484" y="521" width="3" height="1" fill="#000"/>
<rect x="482" y="522" width="7" height="2" fill="#000"/>
<rect x="484" y="524" width="3" height="2" fill="#000"/>
<rect x="482" y="528" width="7" height="3" rx="1" fill="#000"/>
<rect x="493" y="521" width="3" height="1" fill="#000"/>
<rect x="491" y="522" width="7" height="2" fill="#000"/>
<rect x="493" y="524" width="3" height="2" fill="#000"/>
<rect x="491" y="528" width="7" height="3" rx="1" fill="#000"/>
<rect x="502" y="521" width="3" height="1" fill="#000"/>
<rect x="500" y="522" width="7" height="2" fill="#000"/>
<rect x="502" y="524" width="3" height="2" fill="#000"/>
<rect x="500" y="528" width="7" height="3" rx="1" fill="#000"/>
<rect x="511" y="521" width="3" height="1" fill="#000"/>
<rect x="509" y="522" width="7" height="2" fill="#000"/>
<rect x="511" y="524" width="3" height="2" fill="#000"/>
<rect x="509" y="528" width="7" height="3" rx="1" fill="#000"/>
<rect x="412" y="532" width="7" height="7" fill="#000"/>
<rect x="413" y="533" width="5" height="5" fill="#fff"/>
<rect x="421" y="532" width="7" height="7" fill="#000"/>
<rect x="422" y="533" width="5" height="5" fill="#fff"/>
<rect x="431" y="532" width="7" height="7" fill="#000"/>
<rect x="432" y="533" width="5" height="5" fill="#fff"/>
<rect x="440" y="532" width="7" height="7" fill="#000"/>
<rect x="441" y="533" width="5" height="5" fill="#fff"/>
<rect x="450" y="532" width="7" height="7" fill="#000"/>
<rect x="451" y="533" width="5" height="5" fill="#fff"/>
<rect x="459" y="532" width="7" height="7" fill="#000"/>
<rect x="460" y="533" width="5" height="5" fill="#fff"/>
<rect x="468" y="532" width="7" height="7" fill="#000"/>
<rect x="469" y="533" width="5" height="5" fill="#fff"/>
<rect x="478" y="532" width="7" height="7" fill="#000"/>
<rect x="479" y="533" width="5" height="5" fill="#fff"/>
<rect x="487" y="532" width="7" height="7" fill="#000"/>
<rect x="488" y="533" width="5" height="5" fill="#fff"/>
<rect x="497" y="532" width="7" height="7" fill="#000"/>
<rect x="498" y="533" width="5" height="5" fill="#fff"/>
<rect x="506" y="532" width="7" height="7" fill="#000"/>
<rect x="507" y="533" width="5" height="5" fill="#fff"/>
<rect x="395" y="523" width="7" height="13" fill="#000"/>
<rect x="397" y="529" width="3" height="1" fill="#fff"/>
<rect x="367" y="543" width="25" height="18" rx="3" fill="#000"/>
<rect x="369" y="545" width="21" height="13" rx="2" fill="#fff"/>
<polygon points="391.60,548.34 398.74,536.67 397.26,535.33 386.40,543.66" fill="#000"/>
<polygon points="388.11,547.89 392.64,542.55 392.05,542.02 387.22,547.09" fill="#fff"/>
<rect x="571" y="478" width="30" height="37" fill="#000"/>
<rect x="595" y="471" width="6" height="51" fill="#000"/>
<rect x="592" y="473" width="4" height="47" fill="#000"/>
<rect x="568" y="484" width="3" height="25" fill="#000"/>
<rect x="564" y="486" width="5" height="9" fill="#000"/>
<rect x="565" y="487" width="3" height="7" fill="#fff"/>
<rect x="564" y="498" width="5" height="9" fill="#000"/>
<rect x="565" y="499" width="3" height="7" fill="#fff"/>
<rect x="570" y="494" width="1" height="4" fill="#fff"/>
<defs><filter id="crisp" filterUnits="userSpaceOnUse" x="0" y="0" width="604" height="573"><feComponentTransfer><feFuncA type="discrete" tableValues="0 0 0 0 0 0 0 0 1 1 1 1 1 1 1 1 1 1 1 1"/></feComponentTransfer></filter></defs>
<g filter="url(#crisp)"><text transform="translate(558.77,279.50) scale(0.75,1)" font-size="13.5" style="letter-spacing:2.44px">BIOS</text>
<text transform="translate(129.88,146.30) scale(0.75,1)" font-size="13.5" style="letter-spacing:3.81px">CPU</text>
<text transform="translate(50.08,156.00) scale(0.75,1)" font-size="13.5" style="letter-spacing:2.18px">TAG</text>
<text transform="translate(273.64,72.00) scale(0.75,1)" font-size="14" style="letter-spacing:0.00px">B</text>
<text transform="translate(274.48,86.40) scale(0.75,1)" font-size="14" style="letter-spacing:0.00px">A</text>
<text transform="translate(273.64,100.80) scale(0.75,1)" font-size="14" style="letter-spacing:0.00px">N</text>
<text transform="translate(273.64,115.20) scale(0.75,1)" font-size="14" style="letter-spacing:0.00px">K</text>
<text transform="translate(274.09,129.60) scale(0.75,1)" font-size="14" style="letter-spacing:0.00px">0</text>
<text transform="translate(426.77,74.60) scale(0.75,1)" font-size="13.5" style="letter-spacing:3.20px">BANK 1</text>
<text transform="translate(374.48,29.90) scale(0.75,1)" font-size="13.5" style="letter-spacing:2.94px">CACHE</text>
<text transform="translate(421.93,140.60) scale(0.8,1)" font-size="11.7" style="letter-spacing:1.87px">MH2514</text>
<text transform="translate(84.84,24.70) scale(0.75,1)" font-size="13.5" style="letter-spacing:2.35px">J4</text>
<text transform="translate(118.84,24.70) scale(0.75,1)" font-size="13.5" style="letter-spacing:2.55px">J3</text>
<text transform="translate(153.44,25.20) scale(0.75,1)" font-size="13.5" style="letter-spacing:2.78px">J18</text>
<text transform="translate(194.54,25.00) scale(0.75,1)" font-size="13.5" style="letter-spacing:3.09px">J14</text>
<text transform="translate(240.84,44.60) scale(0.75,1)" font-size="13.5" style="letter-spacing:3.52px">J13</text>
<text transform="translate(32.84,42.50) scale(0.75,1)" font-size="13.5" style="letter-spacing:2.81px">J8</text>
<text transform="translate(23.44,63.50) scale(0.75,1)" font-size="13.5" style="letter-spacing:3.30px">J7</text>
<text transform="translate(32.04,84.90) scale(0.75,1)" font-size="13.5" style="letter-spacing:2.95px">J6</text>
<text transform="translate(68.54,96.80) scale(0.75,1)" font-size="13.5" style="letter-spacing:2.98px">J15</text>
<text transform="translate(112.54,98.00) scale(0.75,1)" font-size="13.5" style="letter-spacing:2.42px">J11</text>
<text transform="translate(151.24,97.00) scale(0.75,1)" font-size="13.5" style="letter-spacing:3.92px">J16</text>
<text transform="translate(187.44,82.60) scale(0.75,1)" font-size="13.5" style="letter-spacing:3.36px">J17</text>
<text transform="translate(232.84,87.60) scale(0.75,1)" font-size="13.5" style="letter-spacing:3.96px">J12</text>
<text transform="translate(246.87,406.00) scale(0.75,1)" font-size="13.5" style="letter-spacing:2.97px">BANK</text>
<text transform="translate(288.53,406.00) scale(0.75,1)" font-size="13.5" style="letter-spacing:0.00px">1</text>
<text transform="translate(246.87,425.00) scale(0.75,1)" font-size="13.5" style="letter-spacing:2.97px">BANK</text>
<text transform="translate(287.66,425.00) scale(0.75,1)" font-size="11.5" style="letter-spacing:0.00px">0</text>
<text transform="translate(246.87,445.00) scale(0.75,1)" font-size="13.5" style="letter-spacing:2.97px">BANK</text>
<text transform="translate(288.53,445.00) scale(0.75,1)" font-size="13.5" style="letter-spacing:0.00px">1</text>
<text transform="translate(246.87,465.00) scale(0.75,1)" font-size="13.5" style="letter-spacing:2.97px">BANK</text>
<text transform="translate(287.66,465.00) scale(0.75,1)" font-size="11.5" style="letter-spacing:0.00px">0</text>
<text transform="translate(246.87,485.00) scale(0.75,1)" font-size="13.5" style="letter-spacing:2.97px">BANK</text>
<text transform="translate(288.53,485.00) scale(0.75,1)" font-size="13.5" style="letter-spacing:0.00px">1</text>
<text transform="translate(246.87,504.00) scale(0.75,1)" font-size="13.5" style="letter-spacing:2.97px">BANK</text>
<text transform="translate(287.66,504.00) scale(0.75,1)" font-size="11.5" style="letter-spacing:0.00px">0</text>
<text transform="translate(246.87,524.00) scale(0.75,1)" font-size="13.5" style="letter-spacing:2.97px">BANK</text>
<text transform="translate(288.53,524.00) scale(0.75,1)" font-size="13.5" style="letter-spacing:0.00px">1</text>
<text transform="translate(246.87,544.00) scale(0.75,1)" font-size="13.5" style="letter-spacing:2.97px">BANK</text>
<text transform="translate(287.66,544.00) scale(0.75,1)" font-size="11.5" style="letter-spacing:0.00px">0</text>
<text transform="translate(464.84,436.90) scale(0.75,1)" font-size="13.5" style="letter-spacing:2.49px">J1</text>
<text transform="translate(442.97,496.00) scale(0.75,1)" font-size="13.5" style="letter-spacing:3.80px">KBD</text>
<text transform="translate(371.74,556.70) scale(0.75,1)" font-size="13.5" style="letter-spacing:3.44px">J2</text></g>
</svg></body></html>
